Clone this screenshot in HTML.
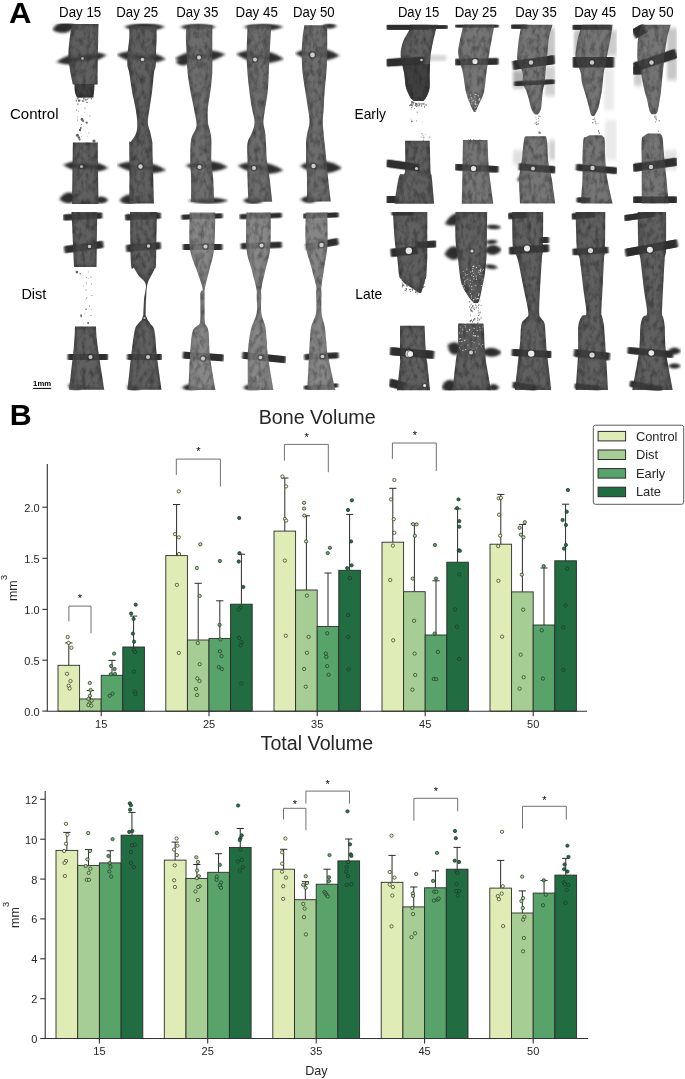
<!DOCTYPE html>
<html lang="en"><head><meta charset="utf-8"><title>Figure</title>
<style>html,body{margin:0;padding:0;background:#fff}svg{display:block}text{font-family:"Liberation Sans",Arial,sans-serif}</style></head><body>
<svg width="685" height="1079" viewBox="0 0 685 1079">
<rect x="0" y="0" width="685" height="1079" fill="#fff"/>
<defs>
<filter id="bone" x="-20%" y="-5%" width="140%" height="110%" color-interpolation-filters="sRGB">
<feTurbulence type="fractalNoise" baseFrequency="0.22 0.13" numOctaves="3" seed="4" result="n"/>
<feColorMatrix in="n" type="matrix" values="0 0 0 0 0  0 0 0 0 0  0 0 0 0 0  0.75 0 0 0 -0.31" result="na"/>
<feComposite in="na" in2="SourceGraphic" operator="in" result="dark"/>
<feMorphology in="SourceAlpha" operator="erode" radius="2.2" result="er"/>
<feGaussianBlur in="er" stdDeviation="2.2" result="erb"/>
<feFlood flood-color="#fff" flood-opacity="0.13" result="fl"/>
<feComposite in="fl" in2="erb" operator="in" result="light"/>
<feMerge result="m"><feMergeNode in="SourceGraphic"/><feMergeNode in="light"/><feMergeNode in="dark"/></feMerge>
<feGaussianBlur in="m" stdDeviation="0.5"/>
</filter>
<filter id="pine" x="-30%" y="-150%" width="160%" height="400%"><feGaussianBlur stdDeviation="1.6 0.8"/></filter>
<filter id="pinr" x="-20%" y="-100%" width="140%" height="300%"><feGaussianBlur stdDeviation="0.9 0.7"/></filter>
<filter id="spot" x="-100%" y="-100%" width="300%" height="300%"><feGaussianBlur stdDeviation="0.7"/></filter>
<filter id="hz" x="-30%" y="-30%" width="160%" height="160%"><feGaussianBlur stdDeviation="1.6 2.2"/></filter>
<filter id="deb" x="-10%" y="-10%" width="120%" height="120%"><feGaussianBlur stdDeviation="0.35"/></filter>
</defs>
<g id="bones">
<clipPath id="cC15"><rect x="52" y="23.5" width="58" height="180.5"/></clipPath>
<g clip-path="url(#cC15)">
<path d="M52.3 27.5 Q57.6 22.1 64.2 22.1 Q70.7 22.1 76 27.5 Q70.7 32.9 64.2 32.9 Q57.6 32.9 52.3 27.5Z" fill="#2f2f2f" filter="url(#pine)" transform="rotate(-10 64.2 27.5)"/>
<path d="M56 58.5 Q67.5 52.6 81.5 52.6 Q95.5 52.6 107 58.5 Q95.5 64.3 81.5 64.3 Q67.5 64.3 56 58.5Z" fill="#2f2f2f" filter="url(#pine)" transform="rotate(-8 81.5 58.5)"/>
<path d="M63 166.5 Q73.2 160.7 85.8 160.7 Q98.3 160.7 108.5 166.5 Q98.3 172.3 85.8 172.3 Q73.2 172.3 63 166.5Z" fill="#2f2f2f" filter="url(#pine)" transform="rotate(4 85.8 166.5)"/>
<path d="M59.5 198 Q63.7 192.6 68.8 192.6 Q73.8 192.6 78 198 Q73.8 203.4 68.8 203.4 Q63.7 203.4 59.5 198Z" fill="#2f2f2f" filter="url(#pine)" transform="rotate(-8 68.8 198)"/>
<path d="M94 200 Q97.2 196.4 101 196.4 Q104.8 196.4 108 200 Q104.8 203.6 101 203.6 Q97.2 203.6 94 200Z" fill="#2f2f2f" filter="url(#pine)" transform="rotate(0 101 200)"/>
<g filter="url(#bone)" fill="#494949">
<path d="M72 24C71.6 26.7 70.1 34.8 69.5 40C68.9 45.2 68.4 50 68.5 55C68.6 60 69.3 65.1 70 70C70.7 74.9 72.4 82.1 72.9 84.5L97.6 84.5C97.6 82.1 97.6 74.9 97.6 70C97.6 65.1 97.7 60 97.8 55C97.9 50 98.1 45.2 98.2 40C98.3 34.8 98.5 26.7 98.5 24Z"/>
<path d="M74.5 84C74.6 85.3 74.6 89.8 75 92C75.4 94.2 76.7 96.6 77 97.5L93 97.5C93.2 96.6 93.8 94.2 94 92C94.2 89.8 94.4 85.3 94.5 84Z"/>
<path d="M72.9 142.5C72.8 147.1 72.7 159.7 72.5 170C72.3 180.3 72.1 198.8 72 204.5L98.6 204.5C98.5 198.8 98.1 180.3 98 170C97.9 159.7 97.8 147.1 97.8 142.5Z"/>
</g>
<path d="M74.5 84C74.6 85.3 74.6 89.8 75 92C75.4 94.2 76.7 96.6 77 97.5L93 97.5C93.2 96.6 93.8 94.2 94 92C94.2 89.8 94.4 85.3 94.5 84Z" fill="#1a1a1a" opacity="0.45" filter="url(#deb)"/>
<path d="M80.8 96.9h1.1v0.9h-1.1zM84.6 98.2h0.7v1.4h-0.7zM75.7 98.6h0.7v0.9h-0.7zM82.6 101h0.7v1.1h-0.7zM86.3 101.7h1v1.3h-1zM92.6 96.3h1.2v1.1h-1.2zM77.6 96.7h0.8v1.8h-0.8zM78.3 99.5h1v1.2h-1zM84.9 96.4h0.7v1h-0.7zM87.2 98.6h0.8v1.5h-0.8zM83.2 97.8h1.1v1.7h-1.1zM79.4 99.4h1v1.9h-1zM88.1 97.7h1.3v0.9h-1.3zM82.5 100.5h0.7v1.4h-0.7zM75.7 100h1.1v1.5h-1.1zM90.8 97.9h1.1v1.5h-1.1zM85.4 98.7h1.2v2h-1.2zM83.5 100h0.7v1.7h-0.7zM86.6 102h1.2v1.1h-1.2zM81.9 100h0.7v1.4h-0.7zM78 96.7h0.7v1.8h-0.7zM77.3 97.5h0.9v1.9h-0.9z" fill="#4a4a4a" opacity="0.8" filter="url(#deb)"/>
<path d="M77.1 119.5h0.6v1.2h-0.6zM87.5 135.7h0.5v0.8h-0.5zM81 136.5h0.8v0.6h-0.8zM78.5 111h0.5v0.9h-0.5zM84.2 112.2h0.4v0.8h-0.4zM81.2 124.1h0.8v1h-0.8zM83.2 126.1h0.7v0.5h-0.7zM88.6 132.4h0.7v1.1h-0.7zM81.5 117.6h0.4v1h-0.4zM76.9 104.6h0.5v0.6h-0.5zM80.8 104.1h0.4v0.6h-0.4zM77.4 116.2h0.4v1.2h-0.4z" fill="#4a4a4a" opacity="0.8" filter="url(#deb)"/>
<circle cx="82" cy="119.4" r="1.4" fill="#444" opacity="0.85" filter="url(#deb)"/>
<circle cx="83.2" cy="121" r="1" fill="#444" opacity="0.85" filter="url(#deb)"/>
<circle cx="86.6" cy="122.7" r="1.1" fill="#444" opacity="0.85" filter="url(#deb)"/>
<circle cx="80" cy="130" r="1.2" fill="#444" opacity="0.85" filter="url(#deb)"/>
<circle cx="80.8" cy="128" r="0.9" fill="#444" opacity="0.85" filter="url(#deb)"/>
<circle cx="77.4" cy="135.2" r="1.5" fill="#444" opacity="0.85" filter="url(#deb)"/>
<circle cx="78.8" cy="137.5" r="1.3" fill="#444" opacity="0.85" filter="url(#deb)"/>
<circle cx="79.6" cy="139.5" r="1" fill="#444" opacity="0.85" filter="url(#deb)"/>
<circle cx="79" cy="101" r="0.9" fill="#444" opacity="0.85" filter="url(#deb)"/>
<circle cx="78" cy="104" r="0.7" fill="#444" opacity="0.85" filter="url(#deb)"/>
<circle cx="85" cy="108" r="0.6" fill="#444" opacity="0.85" filter="url(#deb)"/>
<circle cx="76.5" cy="110" r="0.6" fill="#444" opacity="0.85" filter="url(#deb)"/>
<circle cx="90" cy="116" r="0.5" fill="#444" opacity="0.85" filter="url(#deb)"/>
<circle cx="94" cy="141" r="1.6" fill="#444" opacity="0.85" filter="url(#deb)"/>
<ellipse cx="64.2" cy="27.5" rx="9.5" ry="2.1" fill="#2f2f2f" opacity="0.7" filter="url(#pine)" transform="rotate(-10 64.2 27.5)"/>
<ellipse cx="81.5" cy="58.5" rx="20.4" ry="2.3" fill="#2f2f2f" opacity="0.7" filter="url(#pine)" transform="rotate(-8 81.5 58.5)"/>
<ellipse cx="85.8" cy="166.5" rx="18.2" ry="2.3" fill="#2f2f2f" opacity="0.7" filter="url(#pine)" transform="rotate(4 85.8 166.5)"/>
<ellipse cx="68.8" cy="198" rx="7.4" ry="2.1" fill="#2f2f2f" opacity="0.7" filter="url(#pine)" transform="rotate(-8 68.8 198)"/>
<ellipse cx="101" cy="200" rx="5.6" ry="1.4" fill="#2f2f2f" opacity="0.7" filter="url(#pine)" transform="rotate(0 101 200)"/>
<circle cx="82.5" cy="58.5" r="2.8" fill="#2a2a2a" opacity="0.4" filter="url(#spot)"/>
<circle cx="82.5" cy="58.5" r="1.4" fill="#bdbdbd" opacity="0.9" filter="url(#spot)"/>
<circle cx="81.5" cy="166.5" r="3" fill="#2a2a2a" opacity="0.4" filter="url(#spot)"/>
<circle cx="81.5" cy="166.5" r="1.6" fill="#bdbdbd" opacity="0.9" filter="url(#spot)"/>
</g>
<clipPath id="cC25"><rect x="117" y="23.5" width="49.5" height="180.5"/></clipPath>
<g clip-path="url(#cC25)">
<path d="M124 27 Q133.2 22.9 144.5 22.9 Q155.8 22.9 165 27 Q155.8 31.1 144.5 31.1 Q133.2 31.1 124 27Z" fill="#2f2f2f" filter="url(#pine)" transform="rotate(0 144.5 27)"/>
<path d="M116.5 57 Q127.6 51.1 141.2 51.1 Q154.9 51.1 166 57 Q154.9 62.9 141.2 62.9 Q127.6 62.9 116.5 57Z" fill="#2f2f2f" filter="url(#pine)" transform="rotate(5 141.2 57)"/>
<path d="M116.5 167.5 Q127.7 161.7 141.4 161.7 Q155.1 161.7 166.3 167.5 Q155.1 173.3 141.4 173.3 Q127.7 173.3 116.5 167.5Z" fill="#2f2f2f" filter="url(#pine)" transform="rotate(6 141.4 167.5)"/>
<path d="M119.5 199.5 Q124.1 194.6 129.8 194.6 Q135.4 194.6 140 199.5 Q135.4 204.4 129.8 204.4 Q124.1 204.4 119.5 199.5Z" fill="#2f2f2f" filter="url(#pine)" transform="rotate(-6 129.8 199.5)"/>
<g filter="url(#bone)" fill="#494949">
<path d="M129.3 26C129.3 27.9 129.6 32.7 129.3 37.6C129 42.5 127.8 50.5 127.5 55.2C127.2 59.9 127.2 62.8 127.5 65.8C127.8 68.8 128.6 68.8 129.3 72.9C130 77 130.9 84.6 131.9 90.5C132.9 96.4 134.6 102.8 135.5 108.1C136.4 113.4 137.1 118.1 137.2 122.2C137.3 126.3 137.3 129.6 136.3 132.8C135.3 136 132.2 139.8 131 141.6C129.8 143.3 129.6 138.6 129.3 143.3C129.1 148 129.5 160 129.5 170C129.5 180 129.3 197.9 129.3 203.5L154 203.5C153.8 197.9 153.3 180 153 170C152.7 160 152.5 148 152.4 143.3C152.3 138.6 152.5 143.3 152.2 141.6C151.9 139.8 151.1 136 150.4 132.8C149.7 129.6 147.9 126.3 147.8 122.2C147.7 118.1 148.9 113.4 149.6 108.1C150.3 102.8 151.5 96.4 152.2 90.5C152.9 84.6 153.4 77 154 72.9C154.6 68.8 155.4 68.8 155.7 65.8C156 62.8 155.8 59.9 155.9 55.2C156.1 50.5 156.5 42.5 156.6 37.6C156.7 32.7 156.6 27.9 156.6 26Z"/>
</g>
<ellipse cx="144.5" cy="27" rx="16.4" ry="1.6" fill="#2f2f2f" opacity="0.35" filter="url(#pine)" transform="rotate(0 144.5 27)"/>
<ellipse cx="141.2" cy="57" rx="19.8" ry="2.3" fill="#2f2f2f" opacity="0.35" filter="url(#pine)" transform="rotate(5 141.2 57)"/>
<ellipse cx="141.4" cy="167.5" rx="19.9" ry="2.3" fill="#2f2f2f" opacity="0.35" filter="url(#pine)" transform="rotate(6 141.4 167.5)"/>
<ellipse cx="129.8" cy="199.5" rx="8.2" ry="1.9" fill="#2f2f2f" opacity="0.35" filter="url(#pine)" transform="rotate(-6 129.8 199.5)"/>
<circle cx="142.5" cy="59.5" r="3.2" fill="#2a2a2a" opacity="0.4" filter="url(#spot)"/>
<circle cx="142.5" cy="59.5" r="1.8" fill="#dcdcdc" opacity="0.9" filter="url(#spot)"/>
<circle cx="140.5" cy="166.5" r="3.6" fill="#2a2a2a" opacity="0.4" filter="url(#spot)"/>
<circle cx="140.5" cy="166.5" r="2.2" fill="#dcdcdc" opacity="0.9" filter="url(#spot)"/>
</g>
<clipPath id="cC35"><rect x="175" y="23.5" width="53.5" height="180.5"/></clipPath>
<g clip-path="url(#cC35)">
<path d="M180 27 Q188.1 23.4 198 23.4 Q207.9 23.4 216 27 Q207.9 30.6 198 30.6 Q188.1 30.6 180 27Z" fill="#2f2f2f" filter="url(#pine)" transform="rotate(0 198 27)"/>
<path d="M174.5 56.5 Q186 50.2 200 50.2 Q214 50.2 225.5 56.5 Q214 62.8 200 62.8 Q186 62.8 174.5 56.5Z" fill="#2f2f2f" filter="url(#pine)" transform="rotate(-5 200 56.5)"/>
<path d="M176 62 Q179.2 58.4 183 58.4 Q186.8 58.4 190 62 Q186.8 65.6 183 65.6 Q179.2 65.6 176 62Z" fill="#2f2f2f" filter="url(#pine)" transform="rotate(0 183 62)"/>
<path d="M185.5 166.3 Q195.1 160.9 206.8 160.9 Q218.4 160.9 228 166.3 Q218.4 171.7 206.8 171.7 Q195.1 171.7 185.5 166.3Z" fill="#2f2f2f" filter="url(#pine)" transform="rotate(2 206.8 166.3)"/>
<path d="M188 200.6 Q197.1 197.4 208.2 197.4 Q219.4 197.4 228.5 200.6 Q219.4 203.8 208.2 203.8 Q197.1 203.8 188 200.6Z" fill="#2f2f2f" filter="url(#pine)" transform="rotate(0 208.2 200.6)"/>
<g filter="url(#bone)" fill="#585858">
<path d="M186.7 25.3C186.6 27.4 185.9 32.6 185.9 37.6C185.9 42.6 186.4 49.3 186.7 55.2C187 61.1 187 67 187.6 72.9C188.2 78.8 189.3 84.6 190.3 90.5C191.3 96.4 192.8 102.8 193.8 108.1C194.8 113.4 196.1 118.7 196.4 122.2C196.7 125.7 196.5 126.4 195.6 129.3C194.7 132.2 192 134.5 191.1 139.8C190.2 145.1 190.3 154.5 190.3 161C190.3 167.5 191 171.8 191.1 178.6C191.2 185.4 191.1 197.9 191.1 201.8L214.1 201.8C213.9 197.9 213.6 185.4 213.2 178.6C212.8 171.8 211.7 167.5 211.4 161C211.1 154.5 211.7 145.1 211.4 139.8C211.1 134.5 210.2 132.2 209.6 129.3C209 126.4 208.2 125.7 207.9 122.2C207.6 118.7 207.5 113.4 207.9 108.1C208.3 102.8 209.8 96.4 210.5 90.5C211.2 84.6 212 78.8 212.3 72.9C212.6 67 212.3 61.1 212.3 55.2C212.3 49.3 212.3 42.6 212.3 37.6C212.3 32.6 212.3 27.4 212.3 25.3Z"/>
</g>
<ellipse cx="198" cy="27" rx="14.4" ry="1.4" fill="#2f2f2f" opacity="0.35" filter="url(#pine)" transform="rotate(0 198 27)"/>
<ellipse cx="200" cy="56.5" rx="20.4" ry="2.4" fill="#2f2f2f" opacity="0.35" filter="url(#pine)" transform="rotate(-5 200 56.5)"/>
<ellipse cx="183" cy="62" rx="5.6" ry="1.4" fill="#2f2f2f" opacity="0.35" filter="url(#pine)" transform="rotate(0 183 62)"/>
<ellipse cx="206.8" cy="166.3" rx="17" ry="2.1" fill="#2f2f2f" opacity="0.35" filter="url(#pine)" transform="rotate(2 206.8 166.3)"/>
<ellipse cx="208.2" cy="200.6" rx="16.2" ry="1.2" fill="#2f2f2f" opacity="0.35" filter="url(#pine)" transform="rotate(0 208.2 200.6)"/>
<circle cx="199" cy="57.5" r="3.4" fill="#2a2a2a" opacity="0.4" filter="url(#spot)"/>
<circle cx="199" cy="57.5" r="2" fill="#dcdcdc" opacity="0.9" filter="url(#spot)"/>
<circle cx="199.5" cy="167" r="3.4" fill="#2a2a2a" opacity="0.4" filter="url(#spot)"/>
<circle cx="199.5" cy="167" r="2" fill="#dcdcdc" opacity="0.9" filter="url(#spot)"/>
</g>
<clipPath id="cC45"><rect x="236" y="23.5" width="48" height="180.5"/></clipPath>
<g clip-path="url(#cC45)">
<path d="M243 27 Q252.1 23.4 263.2 23.4 Q274.4 23.4 283.5 27 Q274.4 30.6 263.2 30.6 Q252.1 30.6 243 27Z" fill="#2f2f2f" filter="url(#pine)" transform="rotate(0 263.2 27)"/>
<path d="M236 56.5 Q246.8 50.2 260 50.2 Q273.2 50.2 284 56.5 Q273.2 62.8 260 62.8 Q246.8 62.8 236 56.5Z" fill="#2f2f2f" filter="url(#pine)" transform="rotate(6 260 56.5)"/>
<path d="M237.5 168 Q247.8 162.2 260.5 162.2 Q273.1 162.2 283.5 168 Q273.1 173.8 260.5 173.8 Q247.8 173.8 237.5 168Z" fill="#2f2f2f" filter="url(#pine)" transform="rotate(6 260.5 168)"/>
<path d="M243 200.5 Q247.7 196.9 253.5 196.9 Q259.3 196.9 264 200.5 Q259.3 204.1 253.5 204.1 Q247.7 204.1 243 200.5Z" fill="#2f2f2f" filter="url(#pine)" transform="rotate(0 253.5 200.5)"/>
<g filter="url(#bone)" fill="#585858">
<path d="M247.5 25.3C247.4 30.3 246.7 47.3 246.7 55.2C246.7 63.1 247.1 67 247.5 72.9C247.9 78.8 248.6 84.6 249.3 90.5C250 96.4 251 102.8 251.9 108.1C252.8 113.4 254.6 118.1 254.6 122.2C254.6 126.3 253.1 129.3 251.9 132.8C250.7 136.3 248.2 138.6 247.5 143.3C246.8 148 247.5 155.1 247.5 161C247.5 166.9 247.3 171.8 247.5 178.6C247.7 185.4 248.2 197.9 248.4 201.8L272.2 201.8C271.8 197.9 270.5 185.4 269.6 178.6C268.7 171.8 267.5 166.9 266.9 161C266.3 155.1 266.3 148 266 143.3C265.7 138.6 265.6 136.3 265.2 132.8C264.8 129.3 263.4 126.3 263.4 122.2C263.4 118.1 264.5 113.4 265.2 108.1C265.9 102.8 267.2 96.4 267.8 90.5C268.4 84.6 268.4 78.8 268.7 72.9C269 67 269.2 63.1 269.6 55.2C270 47.3 271 30.3 271.3 25.3Z"/>
</g>
<ellipse cx="263.2" cy="27" rx="16.2" ry="1.4" fill="#2f2f2f" opacity="0.35" filter="url(#pine)" transform="rotate(0 263.2 27)"/>
<ellipse cx="260" cy="56.5" rx="19.2" ry="2.4" fill="#2f2f2f" opacity="0.35" filter="url(#pine)" transform="rotate(6 260 56.5)"/>
<ellipse cx="260.5" cy="168" rx="18.4" ry="2.3" fill="#2f2f2f" opacity="0.35" filter="url(#pine)" transform="rotate(6 260.5 168)"/>
<ellipse cx="253.5" cy="200.5" rx="8.4" ry="1.4" fill="#2f2f2f" opacity="0.35" filter="url(#pine)" transform="rotate(0 253.5 200.5)"/>
<circle cx="255" cy="59.5" r="3.4" fill="#2a2a2a" opacity="0.4" filter="url(#spot)"/>
<circle cx="255" cy="59.5" r="2" fill="#dcdcdc" opacity="0.9" filter="url(#spot)"/>
<circle cx="254" cy="168" r="3.4" fill="#2a2a2a" opacity="0.4" filter="url(#spot)"/>
<circle cx="254" cy="168" r="2" fill="#dcdcdc" opacity="0.9" filter="url(#spot)"/>
</g>
<clipPath id="cC50"><rect x="295" y="23.5" width="47" height="180.5"/></clipPath>
<g clip-path="url(#cC50)">
<path d="M322 26 Q325.4 23.3 329.5 23.3 Q333.6 23.3 337 26 Q333.6 28.7 329.5 28.7 Q325.4 28.7 322 26Z" fill="#2f2f2f" filter="url(#pine)" transform="rotate(0 329.5 26)"/>
<path d="M295 54.5 Q305 48.2 317.2 48.2 Q329.5 48.2 339.5 54.5 Q329.5 60.8 317.2 60.8 Q305 60.8 295 54.5Z" fill="#2f2f2f" filter="url(#pine)" transform="rotate(3 317.2 54.5)"/>
<path d="M300 167 Q309.4 160.7 321 160.7 Q332.6 160.7 342 167 Q332.6 173.3 321 173.3 Q309.4 173.3 300 167Z" fill="#2f2f2f" filter="url(#pine)" transform="rotate(3 321 167)"/>
<path d="M300.5 199.5 Q304.4 195.9 309.2 195.9 Q314.1 195.9 318 199.5 Q314.1 203.1 309.2 203.1 Q304.4 203.1 300.5 199.5Z" fill="#2f2f2f" filter="url(#pine)" transform="rotate(0 309.2 199.5)"/>
<g filter="url(#bone)" fill="#585858">
<path d="M304.4 25.3C304.1 27.4 303.1 32.9 302.6 37.6C302.2 42.3 301.7 47.5 301.7 53.4C301.7 59.3 302 66.6 302.6 72.8C303.2 79 304.3 84.5 305.2 90.4C306.1 96.3 307.2 102.7 307.9 108C308.6 113.3 309.8 117.6 309.6 122C309.5 126.4 307.6 130.9 307 134.4C306.4 137.9 306.2 138.8 306.1 143.2C306 147.6 306 154.9 306.1 160.8C306.2 166.7 306.9 171.6 307 178.4C307.1 185.2 307 197.7 307 201.5L330.8 201.5C330.4 197.7 328.8 185.2 328.1 178.4C327.4 171.6 327 166.7 326.4 160.8C325.8 154.9 325.1 147.6 324.6 143.2C324.2 138.8 324 137.9 323.7 134.4C323.4 130.9 322.8 126.4 322.8 122C322.8 117.6 323.4 113.3 323.7 108C324 102.7 324.2 96.3 324.6 90.4C325.1 84.5 326 79 326.4 72.8C326.8 66.6 327.1 59.3 327.2 53.4C327.3 47.5 327.2 42.3 327.2 37.6C327.2 32.9 327.2 27.4 327.2 25.3Z"/>
</g>
<ellipse cx="329.5" cy="26" rx="6" ry="1" fill="#2f2f2f" opacity="0.35" filter="url(#pine)" transform="rotate(0 329.5 26)"/>
<ellipse cx="317.2" cy="54.5" rx="17.8" ry="2.4" fill="#2f2f2f" opacity="0.35" filter="url(#pine)" transform="rotate(3 317.2 54.5)"/>
<ellipse cx="321" cy="167" rx="16.8" ry="2.4" fill="#2f2f2f" opacity="0.35" filter="url(#pine)" transform="rotate(3 321 167)"/>
<ellipse cx="309.2" cy="199.5" rx="7" ry="1.4" fill="#2f2f2f" opacity="0.35" filter="url(#pine)" transform="rotate(0 309.2 199.5)"/>
<circle cx="312.5" cy="55" r="3.8" fill="#2a2a2a" opacity="0.4" filter="url(#spot)"/>
<circle cx="312.5" cy="55" r="2.4" fill="#dcdcdc" opacity="0.9" filter="url(#spot)"/>
<circle cx="313.5" cy="166" r="3.6" fill="#2a2a2a" opacity="0.4" filter="url(#spot)"/>
<circle cx="313.5" cy="166" r="2.2" fill="#dcdcdc" opacity="0.9" filter="url(#spot)"/>
</g>
<clipPath id="cD15"><rect x="63" y="212" width="45.5" height="178.5"/></clipPath>
<g clip-path="url(#cD15)">
<rect x="63.4" y="213.5" width="38.6" height="6" rx="1" fill="#2f2f2f" filter="url(#pinr)" transform="rotate(-3 82.7 216.5)"/>
<rect x="64.5" y="243.5" width="38.7" height="7" rx="1" fill="#2f2f2f" filter="url(#pinr)" transform="rotate(-8 83.8 247)"/>
<rect x="68" y="354" width="39.8" height="6" rx="1" fill="#2f2f2f" filter="url(#pinr)" transform="rotate(0 87.9 357)"/>
<path d="M68 386 Q71.6 381.5 76 381.5 Q80.4 381.5 84 386 Q80.4 390.5 76 390.5 Q71.6 390.5 68 386Z" fill="#2f2f2f" filter="url(#pine)" transform="rotate(0 76 386)"/>
<g filter="url(#bone)" fill="#494949">
<path d="M71.5 212 L74 267 L96.5 267 L97.2 212Z"/>
<path d="M75 326.5C74.8 329.6 75 334.4 74 345C73 355.6 70 382.3 69.2 389.8L104.3 389.8C103.2 382.3 98.9 355.6 97.5 345C96.1 334.4 96.2 329.6 96 326.5Z"/>
</g>
<path d="M88.5 278.3h0.5v0.7h-0.5zM86.3 276.9h0.7v1.1h-0.7zM87.2 297.1h0.4v0.5h-0.4zM86.1 284.8h0.7v0.5h-0.7zM83.2 323.3h0.6v0.5h-0.6zM87.9 271.5h0.6v1.1h-0.6zM90.8 309h0.5v0.7h-0.5zM84.5 313.2h0.6v1h-0.6zM86 282.5h0.7v1.1h-0.7zM90.7 315.1h0.7v1h-0.7zM85 299h0.5v0.5h-0.5zM83.3 285.6h0.5v0.9h-0.5zM91.6 295h0.7v1.1h-0.7zM91.6 290.4h0.4v0.6h-0.4z" fill="#4a4a4a" opacity="0.8" filter="url(#deb)"/>
<circle cx="76.9" cy="272.1" r="1.3" fill="#444" opacity="0.85" filter="url(#deb)"/>
<circle cx="80.2" cy="273.8" r="0.7" fill="#444" opacity="0.85" filter="url(#deb)"/>
<circle cx="81.1" cy="315.2" r="0.9" fill="#444" opacity="0.85" filter="url(#deb)"/>
<circle cx="81.1" cy="316.6" r="0.8" fill="#444" opacity="0.85" filter="url(#deb)"/>
<circle cx="88.1" cy="323" r="1" fill="#444" opacity="0.85" filter="url(#deb)"/>
<circle cx="86.1" cy="309.3" r="0.7" fill="#444" opacity="0.85" filter="url(#deb)"/>
<circle cx="89.5" cy="306" r="0.6" fill="#444" opacity="0.85" filter="url(#deb)"/>
<circle cx="91" cy="277" r="0.5" fill="#444" opacity="0.85" filter="url(#deb)"/>
<circle cx="91.5" cy="284" r="0.5" fill="#444" opacity="0.85" filter="url(#deb)"/>
<circle cx="86" cy="290" r="0.5" fill="#444" opacity="0.85" filter="url(#deb)"/>
<circle cx="86.5" cy="298" r="0.5" fill="#444" opacity="0.85" filter="url(#deb)"/>
<rect x="63.4" y="213.5" width="38.6" height="6" rx="1" fill="#2f2f2f" opacity="0.5" filter="url(#pinr)" transform="rotate(-3 82.7 216.5)"/>
<rect x="64.5" y="243.5" width="38.7" height="7" rx="1" fill="#2f2f2f" opacity="0.5" filter="url(#pinr)" transform="rotate(-8 83.8 247)"/>
<rect x="68" y="354" width="39.8" height="6" rx="1" fill="#2f2f2f" opacity="0.5" filter="url(#pinr)" transform="rotate(0 87.9 357)"/>
<ellipse cx="76" cy="386" rx="6.4" ry="1.8" fill="#2f2f2f" opacity="0.35" filter="url(#pine)" transform="rotate(0 76 386)"/>
<circle cx="89.5" cy="246.5" r="3.1" fill="#2a2a2a" opacity="0.4" filter="url(#spot)"/>
<circle cx="89.5" cy="246.5" r="1.7" fill="#dcdcdc" opacity="0.9" filter="url(#spot)"/>
<circle cx="90.5" cy="357" r="3.4" fill="#2a2a2a" opacity="0.4" filter="url(#spot)"/>
<circle cx="90.5" cy="357" r="2" fill="#dcdcdc" opacity="0.9" filter="url(#spot)"/>
</g>
<clipPath id="cD25"><rect x="124.5" y="212" width="37.5" height="178.5"/></clipPath>
<g clip-path="url(#cD25)">
<rect x="125.3" y="213.5" width="35.2" height="6" rx="1" fill="#2f2f2f" filter="url(#pinr)" transform="rotate(-3 142.9 216.5)"/>
<rect x="126.5" y="243.5" width="34" height="7" rx="1" fill="#2f2f2f" filter="url(#pinr)" transform="rotate(-5 143.5 247)"/>
<rect x="127.6" y="354" width="34.1" height="6" rx="1" fill="#2f2f2f" filter="url(#pinr)" transform="rotate(0 144.6 357)"/>
<path d="M127 387 Q130.4 382.5 134.5 382.5 Q138.6 382.5 142 387 Q138.6 391.5 134.5 391.5 Q130.4 391.5 127 387Z" fill="#2f2f2f" filter="url(#pine)" transform="rotate(0 134.5 387)"/>
<g filter="url(#bone)" fill="#494949">
<path d="M130 212C130.2 220.7 130.3 254.7 131 264C131.7 273.3 132.7 266 134 268C135.3 270 137 273.3 139 276C141 278.7 145 280.4 145.8 284.4C146.6 288.4 144.4 294.4 144 300C143.6 305.6 143.3 315 143.2 318L145.6 318C145.7 315 145.7 305.6 146 300C146.3 294.4 146.5 288.4 147.3 284.4C148.1 280.4 149.7 278.7 151 276C152.3 273.3 154.2 270 155 268C155.8 266 155.7 273.3 156 264C156.3 254.7 156.7 220.7 156.8 212Z"/>
<path d="M143.4 316C143.1 316.7 142.4 318.7 141.5 320C140.6 321.3 139.2 322.2 138 324C136.8 325.8 135.8 325.5 134.6 331C133.4 336.5 132.2 347.2 131 357C129.8 366.8 128.2 384.3 127.6 389.8L161.5 389.8C160.8 384.3 158.2 366.8 157 357C155.8 347.2 155.6 336.5 154.5 331C153.4 325.5 151.6 325.8 150.5 324C149.4 322.2 148.6 321.3 147.8 320C147 318.7 146 316.7 145.6 316Z"/>
</g>
<rect x="125.3" y="213.5" width="35.2" height="6" rx="1" fill="#2f2f2f" opacity="0.5" filter="url(#pinr)" transform="rotate(-3 142.9 216.5)"/>
<rect x="126.5" y="243.5" width="34" height="7" rx="1" fill="#2f2f2f" opacity="0.5" filter="url(#pinr)" transform="rotate(-5 143.5 247)"/>
<rect x="127.6" y="354" width="34.1" height="6" rx="1" fill="#2f2f2f" opacity="0.5" filter="url(#pinr)" transform="rotate(0 144.6 357)"/>
<ellipse cx="134.5" cy="387" rx="6" ry="1.8" fill="#2f2f2f" opacity="0.35" filter="url(#pine)" transform="rotate(0 134.5 387)"/>
<circle cx="148.5" cy="246" r="3.1" fill="#2a2a2a" opacity="0.4" filter="url(#spot)"/>
<circle cx="148.5" cy="246" r="1.7" fill="#dcdcdc" opacity="0.9" filter="url(#spot)"/>
<circle cx="148" cy="357" r="3.4" fill="#2a2a2a" opacity="0.4" filter="url(#spot)"/>
<circle cx="148" cy="357" r="2" fill="#dcdcdc" opacity="0.9" filter="url(#spot)"/>
<circle cx="144.5" cy="318" r="2.5" fill="#2a2a2a" opacity="0.4" filter="url(#spot)"/>
<circle cx="144.5" cy="318" r="1.1" fill="#dcdcdc" opacity="0.9" filter="url(#spot)"/>
</g>
<clipPath id="cD35"><rect x="180" y="212" width="44" height="178.5"/></clipPath>
<g clip-path="url(#cD35)">
<rect x="181.6" y="214" width="40.9" height="5" rx="1" fill="#2f2f2f" filter="url(#pinr)" transform="rotate(-2 202.1 216.5)"/>
<rect x="183" y="243.9" width="39.3" height="6" rx="1" fill="#2f2f2f" filter="url(#pinr)" transform="rotate(0 202.7 246.9)"/>
<rect x="183" y="353" width="40.7" height="7" rx="1" fill="#2f2f2f" filter="url(#pinr)" transform="rotate(4 203.3 356.5)"/>
<path d="M182 387.5 Q186.1 383.9 191 383.9 Q195.9 383.9 200 387.5 Q195.9 391.1 191 391.1 Q186.1 391.1 182 387.5Z" fill="#2f2f2f" filter="url(#pine)" transform="rotate(0 191 387.5)"/>
<g filter="url(#bone)" fill="#767676">
<path d="M189.7 212.6C189.7 218.5 188.7 238.6 189.9 248.2C191.1 257.8 194.6 263.2 196.7 270C198.8 276.8 202 284.7 202.6 288.7C203.2 292.7 200.8 288.6 200.4 294C200 299.4 200.8 315.7 200.2 321C199.6 326.3 198.3 324.2 197 326C195.7 327.8 193.6 327 192.4 332C191.2 337 190.7 346.3 190 356C189.3 365.7 188.7 384.3 188.4 390L215.4 390C214.5 384.3 211.1 365.7 210 356C208.9 346.3 209.2 337 208.6 332C208 327 207.1 327.8 206.5 326C205.9 324.2 205.1 326.3 204.8 321C204.5 315.7 204.6 299.4 204.6 294C204.6 288.6 204 292.7 204.8 288.7C205.6 284.7 207.7 276.8 209.3 270C210.9 263.2 213.2 257.8 214.2 248.2C215.2 238.6 215.2 218.5 215.4 212.6Z"/>
</g>
<rect x="181.6" y="214" width="40.9" height="5" rx="1" fill="#2f2f2f" opacity="0.22" filter="url(#pinr)" transform="rotate(-2 202.1 216.5)"/>
<rect x="183" y="243.9" width="39.3" height="6" rx="1" fill="#2f2f2f" opacity="0.22" filter="url(#pinr)" transform="rotate(0 202.7 246.9)"/>
<rect x="183" y="353" width="40.7" height="7" rx="1" fill="#2f2f2f" opacity="0.22" filter="url(#pinr)" transform="rotate(4 203.3 356.5)"/>
<ellipse cx="191" cy="387.5" rx="7.2" ry="1.4" fill="#2f2f2f" opacity="0.35" filter="url(#pine)" transform="rotate(0 191 387.5)"/>
<circle cx="205.5" cy="246.5" r="3.4" fill="#2a2a2a" opacity="0.4" filter="url(#spot)"/>
<circle cx="205.5" cy="246.5" r="2" fill="#dcdcdc" opacity="0.9" filter="url(#spot)"/>
<circle cx="203" cy="358.5" r="3.4" fill="#2a2a2a" opacity="0.4" filter="url(#spot)"/>
<circle cx="203" cy="358.5" r="2" fill="#dcdcdc" opacity="0.9" filter="url(#spot)"/>
</g>
<clipPath id="cD45"><rect x="239" y="212" width="47" height="178.5"/></clipPath>
<g clip-path="url(#cD45)">
<rect x="239.7" y="213.5" width="42" height="5" rx="1" fill="#2f2f2f" filter="url(#pinr)" transform="rotate(-2 260.7 216)"/>
<rect x="241" y="242.5" width="40.7" height="6" rx="1" fill="#2f2f2f" filter="url(#pinr)" transform="rotate(-2 261.4 245.5)"/>
<rect x="242.4" y="354.1" width="43.4" height="7" rx="1" fill="#2f2f2f" filter="url(#pinr)" transform="rotate(6 264.1 357.6)"/>
<path d="M243 387.5 Q247.3 383.9 252.5 383.9 Q257.7 383.9 262 387.5 Q257.7 391.1 252.5 391.1 Q247.3 391.1 243 387.5Z" fill="#2f2f2f" filter="url(#pine)" transform="rotate(0 252.5 387.5)"/>
<g filter="url(#bone)" fill="#767676">
<path d="M246.4 212.6C246.4 218.5 245.5 238.6 246.4 248.2C247.3 257.8 250.1 263.2 251.8 270C253.5 276.8 255.6 284.2 256.4 288.7C257.2 293.2 256.6 292.9 256.7 297C256.8 301.1 257.5 308.1 256.7 313C255.9 317.9 253.1 322 251.8 326.5C250.5 331 249.8 335.1 249.1 340C248.4 344.9 248 347.9 247.8 356.2C247.6 364.5 247.8 384.4 247.8 390L273.4 390C272.5 384.4 269.1 364.5 268 356.2C266.9 347.9 267.1 344.9 266.7 340C266.2 335.1 266.2 331 265.3 326.5C264.4 322 262 317.9 261.3 313C260.6 308.1 261.3 301.1 261.3 297C261.3 292.9 260.6 293.2 261.3 288.7C262 284.2 263.9 276.8 265.4 270C266.9 263.2 269.3 257.8 270.2 248.2C271.1 238.6 270.6 218.5 270.7 212.6Z"/>
</g>
<rect x="239.7" y="213.5" width="42" height="5" rx="1" fill="#2f2f2f" opacity="0.22" filter="url(#pinr)" transform="rotate(-2 260.7 216)"/>
<rect x="241" y="242.5" width="40.7" height="6" rx="1" fill="#2f2f2f" opacity="0.22" filter="url(#pinr)" transform="rotate(-2 261.4 245.5)"/>
<rect x="242.4" y="354.1" width="43.4" height="7" rx="1" fill="#2f2f2f" opacity="0.22" filter="url(#pinr)" transform="rotate(6 264.1 357.6)"/>
<ellipse cx="252.5" cy="387.5" rx="7.6" ry="1.4" fill="#2f2f2f" opacity="0.35" filter="url(#pine)" transform="rotate(0 252.5 387.5)"/>
<circle cx="261.5" cy="245.5" r="3.4" fill="#2a2a2a" opacity="0.4" filter="url(#spot)"/>
<circle cx="261.5" cy="245.5" r="2" fill="#dcdcdc" opacity="0.9" filter="url(#spot)"/>
<circle cx="260.5" cy="357.5" r="3.2" fill="#2a2a2a" opacity="0.4" filter="url(#spot)"/>
<circle cx="260.5" cy="357.5" r="1.8" fill="#dcdcdc" opacity="0.9" filter="url(#spot)"/>
</g>
<clipPath id="cD50"><rect x="303" y="212" width="37" height="178.5"/></clipPath>
<g clip-path="url(#cD50)">
<rect x="303.1" y="213" width="35.4" height="5" rx="1" fill="#2f2f2f" filter="url(#pinr)" transform="rotate(-2 320.8 215.5)"/>
<rect x="305.8" y="240.7" width="32.6" height="7" rx="1" fill="#2f2f2f" filter="url(#pinr)" transform="rotate(-10 322.1 244.2)"/>
<rect x="304.5" y="353.2" width="33.9" height="6" rx="1" fill="#2f2f2f" filter="url(#pinr)" transform="rotate(-3 321.4 356.2)"/>
<rect x="304" y="384.5" width="34" height="4" rx="1" fill="#2f2f2f" filter="url(#pinr)" transform="rotate(-4 321 386.5)"/>
<g filter="url(#bone)" fill="#767676">
<path d="M305.8 212.6C305.8 218.1 304.9 236.4 305.8 245.5C306.7 254.6 309.6 260.2 311.3 267C313 273.8 315.3 281.5 316.1 286C316.9 290.5 316.1 289.5 316.1 294C316.1 298.5 316.9 307.6 316.1 313C315.3 318.4 312.2 322 311.2 326.5C310.2 331 310.3 335.1 309.9 340C309.5 344.9 309.4 347.7 309 356C308.6 364.3 307.5 384.3 307.2 390L335.5 390C334.2 384.3 329.6 364.3 328 356C326.4 347.7 326.7 344.9 326.1 340C325.6 335.1 325.5 331 324.7 326.5C323.9 322 322 318.4 321.5 313C321 307.6 321.5 298.5 321.5 294C321.5 289.5 321 290.5 321.5 286C322 281.5 323.3 273.8 324.3 267C325.3 260.2 326.9 254.6 327.4 245.5C327.9 236.4 327.4 218.1 327.4 212.6Z"/>
</g>
<rect x="303.1" y="213" width="35.4" height="5" rx="1" fill="#2f2f2f" opacity="0.22" filter="url(#pinr)" transform="rotate(-2 320.8 215.5)"/>
<rect x="305.8" y="240.7" width="32.6" height="7" rx="1" fill="#2f2f2f" opacity="0.22" filter="url(#pinr)" transform="rotate(-10 322.1 244.2)"/>
<rect x="304.5" y="353.2" width="33.9" height="6" rx="1" fill="#2f2f2f" opacity="0.22" filter="url(#pinr)" transform="rotate(-3 321.4 356.2)"/>
<rect x="304" y="384.5" width="34" height="4" rx="1" fill="#2f2f2f" opacity="0.22" filter="url(#pinr)" transform="rotate(-4 321 386.5)"/>
<circle cx="321.5" cy="245" r="3.6" fill="#2a2a2a" opacity="0.4" filter="url(#spot)"/>
<circle cx="321.5" cy="245" r="2.2" fill="#dcdcdc" opacity="0.9" filter="url(#spot)"/>
<circle cx="322.5" cy="356.5" r="3.2" fill="#2a2a2a" opacity="0.4" filter="url(#spot)"/>
<circle cx="322.5" cy="356.5" r="1.8" fill="#dcdcdc" opacity="0.9" filter="url(#spot)"/>
</g>
<clipPath id="cE15"><rect x="386.5" y="24.5" width="61.5" height="179.5"/></clipPath>
<g clip-path="url(#cE15)">
<rect x="424" y="56" width="22" height="4" fill="#000" opacity="0.25" filter="url(#hz)"/>
<rect x="386.5" y="24.8" width="42.5" height="5" rx="1" fill="#2f2f2f" filter="url(#pinr)" transform="rotate(0 407.8 27.3)"/>
<rect x="429" y="25.2" width="18.5" height="3.5" rx="1" fill="#2f2f2f" filter="url(#pinr)" transform="rotate(0 438.2 27)"/>
<rect x="386.5" y="57.8" width="38" height="7.5" rx="1" fill="#2f2f2f" filter="url(#pinr)" transform="rotate(-4 405.5 61.5)"/>
<rect x="386.5" y="161.8" width="32.5" height="7.5" rx="1" fill="#2f2f2f" filter="url(#pinr)" transform="rotate(8 402.8 165.5)"/>
<rect x="386.5" y="196.1" width="9.5" height="7" rx="1" fill="#2f2f2f" filter="url(#pinr)" transform="rotate(0 391.2 199.6)"/>
<g filter="url(#bone)" fill="#494949">
<path d="M410 24.5C409.9 25.4 410.5 26.9 409.4 29.7C408.3 32.5 404.8 36.9 403.3 41.1C401.8 45.4 400.5 49.9 400.6 55.2C400.7 60.5 403.2 67.6 404.1 72.9C405 78.2 405.1 83.5 405.9 87C406.6 90.5 407.8 92.1 408.6 94C409.5 95.9 410.1 97.3 411 98.5C411.9 99.7 413.5 100.6 414 101L423.5 101C423.8 100.6 424.8 99.7 425.5 98.5C426.2 97.3 427.2 95.9 427.9 94C428.6 92.1 429.4 90.5 429.7 87C430 83.5 429.5 78.2 429.7 72.9C429.9 67.6 430 60.5 430.6 55.2C431.2 49.9 432.3 45.4 433.2 41.1C434.1 36.9 435.1 32.5 435.9 29.7C436.7 26.9 437.6 25.4 438 24.5Z"/>
<path d="M405 140.7C405 145.8 405.9 165.8 405 171.5C404.1 177.2 401.1 171.9 399.7 175C398.3 178.1 397.4 185.2 396.5 190C395.6 194.8 394.8 201.5 394.5 203.8L434.1 203.8C433.9 201.5 433.4 194.8 433 190C432.6 185.2 431.9 178.1 431.5 175C431.1 171.9 430.9 177.2 430.6 171.5C430.3 165.8 429.9 145.8 429.7 140.7Z"/>
</g>
<path d="M402.5 64C402.8 65.5 403.5 69.1 404.1 72.9C404.7 76.7 405.1 83.5 405.9 87C406.6 90.5 407.8 92.1 408.6 94C409.5 95.9 410.1 97.3 411 98.5C411.9 99.7 413.5 100.6 414 101L423.5 101C423.8 100.6 424.8 99.7 425.5 98.5C426.2 97.3 427.2 95.9 427.9 94C428.6 92.1 429.4 90.5 429.7 87C430 83.5 429.6 76.7 429.7 72.9C429.8 69.1 430.1 65.5 430.2 64Z" fill="#222" opacity="0.5" filter="url(#deb)"/>
<path d="M412.3 101.2h1v1.9h-1zM423.3 102.9h1.1v1.8h-1.1zM410.4 104h1.2v1.8h-1.2zM421.8 102.9h0.8v1.8h-0.8zM414.7 104.8h1.3v1.3h-1.3zM415.8 105.7h1.1v1h-1.1zM411.2 100.9h1.2v1.8h-1.2zM411.5 105h1.3v1.6h-1.3zM415 103.3h0.7v0.8h-0.7zM425.5 103.9h1v2h-1zM416.4 105.2h1.2v1h-1.2zM413.3 101.8h0.8v1.5h-0.8zM413.4 102.5h0.7v1.9h-0.7zM415 102.7h1v1.9h-1zM416.2 105.5h1v1.4h-1zM417.9 100.1h0.9v1h-0.9zM409.1 104.8h0.8v1.4h-0.8zM421.3 103.3h0.8v1.4h-0.8zM418.4 104.7h0.7v1.5h-0.7zM413.2 101.7h1.1v1.4h-1.1zM418.5 104.6h1.2v1.3h-1.2zM419.4 103h1v1.7h-1zM416.7 103.2h0.9v2h-0.9zM420.9 105.3h1.2v1.1h-1.2zM418.5 105.7h1.2v0.9h-1.2zM411.1 102.7h0.7v1.1h-0.7zM410.2 104h1.1v1.9h-1.1zM411.6 104.3h1.1v1h-1.1zM424 105.8h0.8v2h-0.8zM415.8 102.9h1.3v1.8h-1.3zM411.7 102.6h1v1.2h-1zM412.3 101.9h1.1v0.8h-1.1zM418.4 102.6h0.7v1.2h-0.7zM419.6 103.1h0.7v2h-0.7z" fill="#4a4a4a" opacity="0.8" filter="url(#deb)"/>
<path d="M421.8 121.5h0.5v0.8h-0.5zM410.6 118.5h0.6v0.7h-0.6zM416.3 120.6h0.9v0.8h-0.9zM412.2 120.7h0.8v1.2h-0.8zM411.3 106.9h0.8v1h-0.8zM411.1 121h0.8v1.3h-0.8zM411.3 119.7h0.5v1.4h-0.5zM416.8 111.4h0.7v1.5h-0.7zM414 108.1h0.7v0.8h-0.7zM411.6 108.6h0.5v0.8h-0.5z" fill="#4a4a4a" opacity="0.8" filter="url(#deb)"/>
<path d="M422.4 135.4h0.8v0.9h-0.8zM425 134.4h0.6v0.6h-0.6zM421.5 133.1h0.8v1.1h-0.8zM420.7 136.8h0.9v0.7h-0.9zM429.5 136.5h0.7v1.4h-0.7zM423.5 137.1h0.8v1.5h-0.8zM422.8 139.7h0.8v1.2h-0.8zM423.7 135.8h0.5v0.7h-0.5z" fill="#4a4a4a" opacity="0.8" filter="url(#deb)"/>
<rect x="386.5" y="24.8" width="42.5" height="5" rx="1" fill="#2f2f2f" opacity="0.85" filter="url(#pinr)" transform="rotate(0 407.8 27.3)"/>
<rect x="429" y="25.2" width="18.5" height="3.5" rx="1" fill="#2f2f2f" opacity="0.85" filter="url(#pinr)" transform="rotate(0 438.2 27)"/>
<rect x="386.5" y="57.8" width="38" height="7.5" rx="1" fill="#2f2f2f" opacity="0.85" filter="url(#pinr)" transform="rotate(-4 405.5 61.5)"/>
<rect x="386.5" y="161.8" width="32.5" height="7.5" rx="1" fill="#2f2f2f" opacity="0.85" filter="url(#pinr)" transform="rotate(8 402.8 165.5)"/>
<rect x="386.5" y="196.1" width="9.5" height="7" rx="1" fill="#2f2f2f" opacity="0.85" filter="url(#pinr)" transform="rotate(0 391.2 199.6)"/>
<circle cx="421.5" cy="60" r="2.7" fill="#2a2a2a" opacity="0.4" filter="url(#spot)"/>
<circle cx="421.5" cy="60" r="1.3" fill="#dcdcdc" opacity="0.9" filter="url(#spot)"/>
<circle cx="416.5" cy="168.5" r="3" fill="#2a2a2a" opacity="0.4" filter="url(#spot)"/>
<circle cx="416.5" cy="168.5" r="1.6" fill="#dcdcdc" opacity="0.9" filter="url(#spot)"/>
</g>
<clipPath id="cE25"><rect x="455" y="24.5" width="44.5" height="179.5"/></clipPath>
<g clip-path="url(#cE25)">
<rect x="455.2" y="24.5" width="43.3" height="3" rx="1" fill="#2f2f2f" filter="url(#pinr)" transform="rotate(0 476.9 26)"/>
<rect x="455.2" y="58.5" width="43.1" height="6.5" rx="1" fill="#2f2f2f" filter="url(#pinr)" transform="rotate(-1 476.8 61.7)"/>
<rect x="455.2" y="165.1" width="43.1" height="6.5" rx="1" fill="#2f2f2f" filter="url(#pinr)" transform="rotate(3 476.8 168.3)"/>
<g filter="url(#bone)" fill="#626262">
<path d="M463.5 24.5C462.6 28.8 458.9 43.8 458.3 50C457.7 56.2 459.2 58.1 460 62C460.8 65.9 462 68.4 463 73.4C464 78.4 464.8 86.9 466 92C467.2 97.1 468.7 100.7 470 104C471.3 107.3 473.3 110.7 474 112L475.5 112C476.1 110.7 477.6 107.3 479 104C480.4 100.7 482.8 97.1 484 92C485.2 86.9 485.6 78.4 486.3 73.4C487 68.4 487.4 65.9 488 62C488.6 58.1 488.7 56.2 489.8 50C490.9 43.8 493.7 28.8 494.5 24.5Z"/>
<path d="M463 140C462.9 145 462.7 159.4 462.5 170C462.3 180.6 461.9 198.2 461.8 203.8L493.3 203.8C492.6 198.2 490 180.6 489 170C488 159.4 487.8 145 487.5 140Z"/>
</g>
<path d="M467.3 108.1h0.9v0.9h-0.9zM470.6 97.1h0.9v0.9h-0.9zM467.5 110h0.9v0.9h-0.9zM481.7 106.7h0.9v0.9h-0.9zM471.1 98.6h0.9v0.9h-0.9zM471.3 102.7h0.9v0.9h-0.9zM468.8 102.5h0.9v0.9h-0.9zM470.7 112.3h0.9v0.9h-0.9zM483.5 104.4h0.9v0.9h-0.9zM470.4 112.3h0.9v0.9h-0.9zM471.6 100.8h0.9v0.9h-0.9zM466 101.3h0.9v0.9h-0.9zM474.5 103.6h0.9v0.9h-0.9zM469.6 103.6h0.9v0.9h-0.9zM466.1 99h0.9v0.9h-0.9zM467.6 101.6h0.9v0.9h-0.9zM466.8 94.4h0.9v0.9h-0.9zM471.5 98.4h0.9v0.9h-0.9zM476.5 104.1h0.9v0.9h-0.9zM479.5 106.5h0.9v0.9h-0.9zM478.9 110.7h0.9v0.9h-0.9zM473 100.2h0.9v0.9h-0.9zM483.7 96.8h0.9v0.9h-0.9zM479 106.2h0.9v0.9h-0.9zM466.8 109.9h0.9v0.9h-0.9zM482.1 105.9h0.9v0.9h-0.9zM479.2 109.4h0.9v0.9h-0.9zM468.5 104h0.9v0.9h-0.9zM475.1 109.9h0.9v0.9h-0.9zM480.5 109.7h0.9v0.9h-0.9zM476.5 111h0.9v0.9h-0.9zM478.3 107.2h0.9v0.9h-0.9zM470.1 94.6h0.9v0.9h-0.9zM468.4 100.9h0.9v0.9h-0.9zM467.9 109.9h0.9v0.9h-0.9zM476.1 105.9h0.9v0.9h-0.9zM477.3 106.9h0.9v0.9h-0.9zM474.8 94.1h0.9v0.9h-0.9zM480.4 108.2h0.9v0.9h-0.9zM475.1 104.2h0.9v0.9h-0.9zM477.9 95.3h0.9v0.9h-0.9zM479.3 98.8h0.9v0.9h-0.9zM467.3 99h0.9v0.9h-0.9zM479.1 97.9h0.9v0.9h-0.9zM479.3 112.5h0.9v0.9h-0.9zM474.9 101.3h0.9v0.9h-0.9zM474.6 107h0.9v0.9h-0.9zM479.8 105.7h0.9v0.9h-0.9zM477.6 95.5h0.9v0.9h-0.9zM468.7 98.8h0.9v0.9h-0.9zM479.4 99.8h0.9v0.9h-0.9zM476.2 94.2h0.9v0.9h-0.9zM467.1 99.1h0.9v0.9h-0.9zM478.1 107.2h0.9v0.9h-0.9zM478.2 99.5h0.9v0.9h-0.9zM475.3 102.8h0.9v0.9h-0.9zM474.4 96.3h0.9v0.9h-0.9zM482.1 97.8h0.9v0.9h-0.9zM483.6 111.8h0.9v0.9h-0.9zM466.3 102.7h0.9v0.9h-0.9z" fill="#fff" opacity="0.75"/>
<path d="M479.5 140.9h0.7v0.8h-0.7zM470.9 140.8h0.6v1.1h-0.6zM470 139.6h0.9v0.7h-0.9zM479.5 139.5h0.9v1.3h-0.9zM471.2 140.7h0.7v0.6h-0.7zM468.1 139.5h0.7v0.9h-0.7zM470 139h0.6v1.4h-0.6zM468 140.3h0.9v0.7h-0.9zM481 140.1h0.9v0.9h-0.9zM473.2 139.2h1v1.1h-1z" fill="#4a4a4a" opacity="0.8" filter="url(#deb)"/>
<rect x="455.2" y="24.5" width="43.3" height="3" rx="1" fill="#2f2f2f" opacity="0.55" filter="url(#pinr)" transform="rotate(0 476.9 26)"/>
<rect x="455.2" y="58.5" width="43.1" height="6.5" rx="1" fill="#2f2f2f" opacity="0.55" filter="url(#pinr)" transform="rotate(-1 476.8 61.7)"/>
<rect x="455.2" y="165.1" width="43.1" height="6.5" rx="1" fill="#2f2f2f" opacity="0.55" filter="url(#pinr)" transform="rotate(3 476.8 168.3)"/>
<circle cx="475" cy="61.5" r="4" fill="#2a2a2a" opacity="0.4" filter="url(#spot)"/>
<circle cx="475" cy="61.5" r="2.6" fill="#f6f6f6" opacity="0.9" filter="url(#spot)"/>
<circle cx="473.5" cy="168.5" r="4" fill="#2a2a2a" opacity="0.4" filter="url(#spot)"/>
<circle cx="473.5" cy="168.5" r="2.6" fill="#f6f6f6" opacity="0.9" filter="url(#spot)"/>
</g>
<clipPath id="cE35"><rect x="511" y="24.5" width="44.4" height="179.5"/></clipPath>
<g clip-path="url(#cE35)">
<rect x="513" y="70" width="11" height="18" fill="#000" opacity="0.3" filter="url(#hz)"/>
<rect x="545" y="28" width="10.4" height="34" fill="#000" opacity="0.22" filter="url(#hz)"/>
<rect x="545" y="66" width="10.4" height="30" fill="#000" opacity="0.18" filter="url(#hz)"/>
<rect x="513" y="150" width="10" height="15" fill="#000" opacity="0.12" filter="url(#hz)"/>
<rect x="549" y="140" width="6.4" height="20" fill="#000" opacity="0.18" filter="url(#hz)"/>
<rect x="511" y="24.2" width="16" height="4.5" rx="1" fill="#2f2f2f" filter="url(#pinr)" transform="rotate(0 519 26.5)"/>
<rect x="513" y="58" width="41.5" height="9" rx="1" fill="#2f2f2f" filter="url(#pinr)" transform="rotate(-8 533.8 62.5)"/>
<rect x="514.7" y="80.5" width="39.6" height="4.5" rx="1" fill="#2f2f2f" filter="url(#pinr)" transform="rotate(-3 534.5 82.8)"/>
<rect x="519.1" y="164.8" width="36.3" height="7" rx="1" fill="#2f2f2f" filter="url(#pinr)" transform="rotate(5 537.2 168.3)"/>
<path d="M517 178 Q520.6 173.5 525 173.5 Q529.4 173.5 533 178 Q529.4 182.5 525 182.5 Q520.6 182.5 517 178Z" fill="#2f2f2f" filter="url(#pine)" transform="rotate(-14 525 178)"/>
<g filter="url(#bone)" fill="#626262">
<path d="M521.7 24.5C521.3 26.7 519.8 32.5 519.1 37.6C518.4 42.7 517.5 51.1 517.3 55.2C517.1 59.3 517.1 59.3 518 62.3C518.9 65.2 521.8 69.4 522.6 72.9C523.4 76.4 522 80.5 522.6 83.4C523.2 86.3 525.1 87.8 526.1 90.5C527.1 93.2 528 96.4 528.8 99.3C529.6 102.2 530.4 105.9 531.1 108.1C531.8 110.3 532.5 111.4 533.2 112.5C533.9 113.6 534.9 114.2 535.3 114.6L537.6 114.6C537.9 114.2 538.8 113.6 539.4 112.5C540 111.4 540.7 110.3 541.1 108.1C541.5 105.9 541.7 102.2 542 99.3C542.3 96.4 542.5 93.2 542.9 90.5C543.3 87.8 544.2 86.3 544.6 83.4C545 80.5 545.2 76.4 545.5 72.9C545.8 69.4 546.2 65.2 546.5 62.3C546.8 59.3 546.9 59.3 547.3 55.2C547.7 51.1 548.1 42.7 549 37.6C549.9 32.5 552 26.7 552.6 24.5Z"/>
<path d="M525.5 136.3C525.3 136.6 524.7 136.8 524.4 138C524.1 139.2 524 139.5 523.5 143.3C523 147.1 522.4 155.1 521.7 161C521 166.9 519.4 171.5 519.1 178.6C518.8 185.7 519.9 199.3 520 203.4L555.2 203.4C554.6 199.3 552.9 185.7 551.7 178.6C550.5 171.5 548.9 166.9 548.2 161C547.5 155.1 547.6 147.1 547.3 143.3C547 139.5 546.6 139.2 546.4 138C546.2 136.8 546.1 136.6 546 136.3Z"/>
</g>
<path d="M536.2 118.9h0.7v0.7h-0.7zM534.6 122.5h0.7v1.7h-0.7zM535.5 117.4h0.8v0.9h-0.8zM536.2 123.6h1.1v1.6h-1.1zM537.8 123.2h1.1v1.3h-1.1zM538.3 115.4h1v1.2h-1zM538.5 120.8h0.7v0.7h-0.7zM539.6 116.1h0.8v1.1h-0.8zM535.8 121.7h1.1v1h-1.1zM537.9 117.7h0.9v1.1h-0.9z" fill="#4a4a4a" opacity="0.8" filter="url(#deb)"/>
<path d="M538.5 131.6h0.8v1.9h-0.8zM539.5 131.9h1.2v2h-1.2zM539.3 131.6h0.8v0.9h-0.8z" fill="#4a4a4a" opacity="0.8" filter="url(#deb)"/>
<rect x="511" y="24.2" width="16" height="4.5" rx="1" fill="#2f2f2f" opacity="0.7" filter="url(#pinr)" transform="rotate(0 519 26.5)"/>
<rect x="513" y="58" width="41.5" height="9" rx="1" fill="#2f2f2f" opacity="0.7" filter="url(#pinr)" transform="rotate(-8 533.8 62.5)"/>
<rect x="514.7" y="80.5" width="39.6" height="4.5" rx="1" fill="#2f2f2f" opacity="0.7" filter="url(#pinr)" transform="rotate(-3 534.5 82.8)"/>
<rect x="519.1" y="164.8" width="36.3" height="7" rx="1" fill="#2f2f2f" opacity="0.7" filter="url(#pinr)" transform="rotate(5 537.2 168.3)"/>
<ellipse cx="525" cy="178" rx="6.4" ry="1.8" fill="#2f2f2f" opacity="0.35" filter="url(#pine)" transform="rotate(-14 525 178)"/>
<circle cx="531" cy="62.5" r="3.6" fill="#2a2a2a" opacity="0.4" filter="url(#spot)"/>
<circle cx="531" cy="62.5" r="2.2" fill="#dcdcdc" opacity="0.9" filter="url(#spot)"/>
<circle cx="533" cy="168.5" r="3.4" fill="#2a2a2a" opacity="0.4" filter="url(#spot)"/>
<circle cx="533" cy="168.5" r="2" fill="#dcdcdc" opacity="0.9" filter="url(#spot)"/>
</g>
<clipPath id="cE45"><rect x="572.4" y="24.5" width="44.6" height="179.5"/></clipPath>
<g clip-path="url(#cE45)">
<rect x="574" y="30" width="9" height="26" fill="#000" opacity="0.25" filter="url(#hz)"/>
<rect x="606" y="30" width="11" height="26" fill="#000" opacity="0.2" filter="url(#hz)"/>
<rect x="604" y="68" width="10" height="42" fill="#000" opacity="0.08" filter="url(#hz)"/>
<rect x="605" y="120" width="12" height="40" fill="#000" opacity="0.08" filter="url(#hz)"/>
<rect x="572.4" y="24.7" width="38.6" height="5" rx="1" fill="#2f2f2f" filter="url(#pinr)" transform="rotate(0 591.7 27.2)"/>
<rect x="572.8" y="57" width="40.8" height="10.5" rx="1" fill="#2f2f2f" filter="url(#pinr)" transform="rotate(0 593.2 62.3)"/>
<rect x="576.4" y="165.7" width="40.6" height="6.5" rx="1" fill="#2f2f2f" filter="url(#pinr)" transform="rotate(5 596.7 168.9)"/>
<rect x="577" y="197.5" width="13" height="5" rx="1" fill="#2f2f2f" filter="url(#pinr)" transform="rotate(0 583.5 200)"/>
<g filter="url(#bone)" fill="#626262">
<path d="M582.5 24.5C581.8 26.7 579.3 32.5 578.1 37.6C576.9 42.7 575.8 51.1 575.5 55.2C575.2 59.3 575.6 59.3 576.5 62.3C577.4 65.2 579.9 69.7 580.8 72.9C581.7 76.1 581.1 78.8 581.7 81.7C582.3 84.6 583.4 87.6 584.3 90.5C585.2 93.4 586.1 96.4 586.9 99.3C587.7 102.2 588.6 105.8 589.2 108.1C589.8 110.4 590 112.1 590.5 113.4C591 114.7 592 115.6 592.3 116L594.3 116C594.5 115.6 595 114.7 595.7 113.4C596.4 112.1 597.6 110.4 598.4 108.1C599.1 105.8 599.6 102.2 600.2 99.3C600.8 96.4 601.5 93.4 601.9 90.5C602.3 87.6 602.5 84.6 602.8 81.7C603.1 78.8 603.2 76.1 603.7 72.9C604.2 69.7 605.4 65.2 606 62.3C606.6 59.3 606.4 59.3 607.2 55.2C608 51.1 609.8 42.7 610.7 37.6C611.6 32.5 612.2 26.7 612.5 24.5Z"/>
<path d="M589.6 135.2C589 135.5 587 136.2 586 137C585 137.8 584 135.8 583.4 139.8C582.8 143.8 582.6 154.5 582.5 161C582.4 167.5 582.8 171.5 582.5 178.6C582.2 185.7 581.1 199.3 580.8 203.4L612.5 203.4C611.6 199.3 608.4 185.7 607.2 178.6C606 171.5 605.8 167.5 605.4 161C605 154.5 604.9 143.8 604.6 139.8C604.3 135.8 604.1 137.8 603.6 137C603.1 136.2 602.2 135.5 601.9 135.2Z"/>
</g>
<path d="M594.1 117.6h0.7v1h-0.7zM595.4 123.2h1v1.1h-1zM594.5 120.7h0.8v1.1h-0.8zM592.4 118.9h1.1v0.8h-1.1zM595 121.4h1v0.9h-1zM593.6 118.7h0.8v1.2h-0.8zM597.7 122.9h1v0.7h-1zM592.2 122h1.1v1.2h-1.1z" fill="#4a4a4a" opacity="0.8" filter="url(#deb)"/>
<path d="M598.2 130h0.9v2h-0.9zM598.7 132.6h1.3v1.1h-1.3z" fill="#4a4a4a" opacity="0.8" filter="url(#deb)"/>
<rect x="572.4" y="24.7" width="38.6" height="5" rx="1" fill="#2f2f2f" opacity="0.75" filter="url(#pinr)" transform="rotate(0 591.7 27.2)"/>
<rect x="572.8" y="57" width="40.8" height="10.5" rx="1" fill="#2f2f2f" opacity="0.75" filter="url(#pinr)" transform="rotate(0 593.2 62.3)"/>
<rect x="576.4" y="165.7" width="40.6" height="6.5" rx="1" fill="#2f2f2f" opacity="0.75" filter="url(#pinr)" transform="rotate(5 596.7 168.9)"/>
<rect x="577" y="197.5" width="13" height="5" rx="1" fill="#2f2f2f" opacity="0.75" filter="url(#pinr)" transform="rotate(0 583.5 200)"/>
<circle cx="592" cy="62.5" r="3.6" fill="#2a2a2a" opacity="0.4" filter="url(#spot)"/>
<circle cx="592" cy="62.5" r="2.2" fill="#dcdcdc" opacity="0.9" filter="url(#spot)"/>
<circle cx="592.5" cy="168" r="3.6" fill="#2a2a2a" opacity="0.4" filter="url(#spot)"/>
<circle cx="592.5" cy="168" r="2.2" fill="#dcdcdc" opacity="0.9" filter="url(#spot)"/>
</g>
<clipPath id="cE50"><rect x="633" y="24.5" width="44" height="179.5"/></clipPath>
<g clip-path="url(#cE50)">
<rect x="667" y="28" width="10" height="52" fill="#000" opacity="0.22" filter="url(#hz)"/>
<rect x="634" y="68" width="8" height="18" fill="#000" opacity="0.2" filter="url(#hz)"/>
<rect x="664" y="150" width="13" height="20" fill="#000" opacity="0.1" filter="url(#hz)"/>
<rect x="633" y="26" width="13" height="10" rx="1" fill="#2f2f2f" filter="url(#pinr)" transform="rotate(-30 639.5 31)"/>
<rect x="633" y="55.8" width="44" height="9.5" rx="1" fill="#2f2f2f" filter="url(#pinr)" transform="rotate(-18.5 655 60.5)"/>
<rect x="633" y="66.5" width="9" height="8" rx="1" fill="#2f2f2f" filter="url(#pinr)" transform="rotate(0 637.5 70.5)"/>
<rect x="633" y="160.8" width="44" height="8" rx="1" fill="#2f2f2f" filter="url(#pinr)" transform="rotate(-8 655 164.8)"/>
<rect x="633" y="196.6" width="44" height="6.5" rx="1" fill="#2f2f2f" filter="url(#pinr)" transform="rotate(0 655 199.8)"/>
<g filter="url(#bone)" fill="#626262">
<path d="M641.7 24.5C641.1 26.7 638.9 32.5 638.2 37.6C637.5 42.7 637.3 51.1 637.3 55.2C637.3 59.3 637.4 59.1 638 62C638.6 64.9 639.7 68.1 640.8 72.8C641.9 77.5 643.4 86 644.4 90.4C645.4 94.8 646.3 96.3 647 99.2C647.7 102.1 648.3 105.9 648.8 108C649.3 110.1 649.5 111 650 112C650.5 113 651.5 113.9 651.8 114.3L655.8 114.3C656.1 113.9 657 113 657.4 112C657.8 111 658 110.1 658.4 108C658.8 105.9 659.3 102.1 659.8 99.2C660.2 96.3 660.6 94.8 661.1 90.4C661.6 86 662.3 77.5 662.8 72.8C663.3 68.1 663.7 64.9 664 62C664.3 59.1 664.1 59.3 664.6 55.2C665.1 51.1 666.2 42.7 667.2 37.6C668.2 32.5 670.2 26.7 670.8 24.5Z"/>
<path d="M647.9 133.5C647.2 133.9 645 135 644 136C643 137 642.1 135.6 641.7 139.7C641.3 143.8 641.7 154.4 641.7 160.8C641.7 167.2 641.7 172.5 641.7 178.4C641.7 184.3 641.7 191.8 641.7 196C641.7 200.2 641.7 202.2 641.7 203.4L669 203.4C668.9 202.2 668.5 200.2 668.1 196C667.7 191.8 667 184.3 666.4 178.4C665.8 172.5 665.2 167.2 664.6 160.8C664 154.4 663.2 143.8 662.8 139.7C662.4 135.6 662.4 137 662 136C661.6 135 660.5 133.9 660.2 133.5Z"/>
</g>
<path d="M654.5 116.1h0.9v1.4h-0.9zM658.7 120.1h0.9v1.5h-0.9zM656.3 118.9h0.6v1.5h-0.6zM655.2 121.4h0.9v1h-0.9zM654.6 116.8h0.9v1.5h-0.9zM654.6 115.5h0.9v1.3h-0.9zM655.9 116.6h0.9v0.7h-0.9zM655.5 118.2h1.1v1.4h-1.1z" fill="#4a4a4a" opacity="0.8" filter="url(#deb)"/>
<path d="M657.8 130.4h0.8v1.1h-0.8zM657.9 131.1h0.8v0.8h-0.8z" fill="#4a4a4a" opacity="0.8" filter="url(#deb)"/>
<rect x="633" y="26" width="13" height="10" rx="1" fill="#2f2f2f" opacity="0.7" filter="url(#pinr)" transform="rotate(-30 639.5 31)"/>
<rect x="633" y="55.8" width="44" height="9.5" rx="1" fill="#2f2f2f" opacity="0.7" filter="url(#pinr)" transform="rotate(-18.5 655 60.5)"/>
<rect x="633" y="66.5" width="9" height="8" rx="1" fill="#2f2f2f" opacity="0.7" filter="url(#pinr)" transform="rotate(0 637.5 70.5)"/>
<rect x="633" y="160.8" width="44" height="8" rx="1" fill="#2f2f2f" opacity="0.7" filter="url(#pinr)" transform="rotate(-8 655 164.8)"/>
<rect x="633" y="196.6" width="44" height="6.5" rx="1" fill="#2f2f2f" opacity="0.7" filter="url(#pinr)" transform="rotate(0 655 199.8)"/>
<circle cx="651.5" cy="62.5" r="3.6" fill="#2a2a2a" opacity="0.4" filter="url(#spot)"/>
<circle cx="651.5" cy="62.5" r="2.2" fill="#dcdcdc" opacity="0.9" filter="url(#spot)"/>
<circle cx="651" cy="167" r="3.6" fill="#2a2a2a" opacity="0.4" filter="url(#spot)"/>
<circle cx="651" cy="167" r="2.2" fill="#dcdcdc" opacity="0.9" filter="url(#spot)"/>
</g>
<clipPath id="cL15"><rect x="389.3" y="212" width="47" height="178.5"/></clipPath>
<g clip-path="url(#cL15)">
<rect x="392" y="211.5" width="22" height="4" rx="1" fill="#2f2f2f" filter="url(#pinr)" transform="rotate(0 403 213.5)"/>
<rect x="391" y="247.5" width="27" height="8" rx="1" fill="#2f2f2f" filter="url(#pinr)" transform="rotate(-6 404.5 251.5)"/>
<rect x="416" y="241.3" width="20.3" height="6.5" rx="1" fill="#2f2f2f" filter="url(#pinr)" transform="rotate(-3 426.1 244.6)"/>
<rect x="390.3" y="349" width="43.4" height="8" rx="1" fill="#2f2f2f" filter="url(#pinr)" transform="rotate(5 412 353)"/>
<rect x="389.3" y="380.5" width="15.7" height="8" rx="1" fill="#2f2f2f" filter="url(#pinr)" transform="rotate(14 397.1 384.5)"/>
<g filter="url(#bone)" fill="#494949">
<path d="M392.9 212C393.2 216.7 394.2 233.7 394.7 240.2C395.2 246.7 395.6 247.9 396 250.8C396.4 253.8 396.8 253.8 397.3 257.9C397.8 262 398.5 272 399.1 275.5C399.7 279 400.7 278.4 401 279L425.5 279C425.6 278.4 426.1 279 426.4 275.5C426.7 272 427.1 262 427.3 257.9C427.5 253.8 427.3 253.8 427.3 250.8C427.3 247.9 427.3 246.7 427.3 240.2C427.3 233.7 427.3 216.7 427.3 212Z"/>
<path d="M401 278C401.4 278.8 401.8 280.9 403.5 282.5C405.2 284.1 408.8 286 411.4 287.8C414 289.6 418.1 292.2 419.4 293.1L421 293.1C421.3 292.2 422.3 289.6 422.9 287.8C423.5 286 424.2 284.1 424.6 282.5C425 280.9 425.4 278.8 425.5 278Z"/>
<path d="M400 325.7C400 329.1 400 340.6 400 346C400 351.4 400 355.1 400 358C400 360.9 400.4 358.6 400 363.6C399.6 368.7 397.8 383.8 397.3 388.3C396.8 392.8 397.1 390.1 397 390.5L430 390.5C430 390.1 430.3 392.8 429.9 388.3C429.4 383.8 427.9 368.7 427.3 363.6C426.7 358.6 426.8 360.9 426.5 358C426.2 355.1 425.8 351.4 425.5 346C425.2 340.6 424.8 329.1 424.6 325.7Z"/>
</g>
<path d="M412.5 287.1h0.9v1.1h-0.9zM416.3 290.1h0.8v0.8h-0.8zM408.8 284h1.1v1h-1.1zM419.3 287.9h1v1h-1zM423.3 282.7h1.2v1.1h-1.2zM406.1 288.1h0.8v2h-0.8zM412.4 281.2h0.8v1.3h-0.8zM416.3 290.4h0.7v1.3h-0.7zM405.9 290.7h0.7v0.8h-0.7zM402.4 283.7h1.2v1.9h-1.2zM417.9 291h1.2v1.2h-1.2zM405.3 290.2h1.1v0.8h-1.1zM416.3 283.5h0.9v1.2h-0.9zM404.9 279h0.8v1.2h-0.8zM423 280.5h1.3v1h-1.3zM409.2 288.9h1.2v1.3h-1.2zM402.1 284.7h0.9v1.9h-0.9zM405.4 283.4h1.2v0.8h-1.2zM410.4 288.7h1.1v0.8h-1.1zM401.8 279.8h1.2v1.1h-1.2zM418.2 289.8h0.9v1.1h-0.9zM423 286.4h0.8v1.7h-0.8zM408.3 282.3h0.6v1.7h-0.6zM422.1 286.6h1.2v0.8h-1.2zM406.4 284.7h1.3v2h-1.3zM409.9 282h0.9v1.4h-0.9zM422.3 281.2h1.2v1.7h-1.2zM419.9 288.3h1v1.2h-1zM408.3 283.3h1.1v0.9h-1.1zM405.5 288h0.8v0.9h-0.8zM401.8 285.6h0.8v2h-0.8zM421.3 290.9h0.8v0.9h-0.8zM403.2 285h1.1v1.3h-1.1zM406.4 284h1v1.6h-1zM418.2 289.2h1.1v0.9h-1.1zM420.3 282.5h1v1.2h-1zM418 281.4h0.8v1.1h-0.8zM404.5 289.6h1v1.2h-1zM410.1 290.9h1v1.1h-1zM419.6 286.8h1.3v0.9h-1.3zM411.9 288.8h1.2v1.9h-1.2zM401.9 282.5h0.7v1h-0.7zM423.4 286h1.2v1.2h-1.2zM420.9 284.4h0.8v1.8h-0.8zM422.8 280.3h1v1.6h-1z" fill="#4a4a4a" opacity="0.8" filter="url(#deb)"/>
<path d="M416.5 292.2h0.6v0.9h-0.6zM416.8 293.6h0.9v0.9h-0.9zM415.1 292h0.9v0.9h-0.9zM417.2 291.2h1v1.3h-1zM415.4 290.6h0.8v1.3h-0.8zM419.5 290.5h0.7v1.5h-0.7z" fill="#4a4a4a" opacity="0.8" filter="url(#deb)"/>
<rect x="392" y="211.5" width="22" height="4" rx="1" fill="#2f2f2f" opacity="0.75" filter="url(#pinr)" transform="rotate(0 403 213.5)"/>
<rect x="391" y="247.5" width="27" height="8" rx="1" fill="#2f2f2f" opacity="0.75" filter="url(#pinr)" transform="rotate(-6 404.5 251.5)"/>
<rect x="416" y="241.3" width="20.3" height="6.5" rx="1" fill="#2f2f2f" opacity="0.75" filter="url(#pinr)" transform="rotate(-3 426.1 244.6)"/>
<rect x="390.3" y="349" width="43.4" height="8" rx="1" fill="#2f2f2f" opacity="0.75" filter="url(#pinr)" transform="rotate(5 412 353)"/>
<rect x="389.3" y="380.5" width="15.7" height="8" rx="1" fill="#2f2f2f" opacity="0.75" filter="url(#pinr)" transform="rotate(14 397.1 384.5)"/>
<circle cx="408.8" cy="250.8" r="4.6" fill="#2a2a2a" opacity="0.4" filter="url(#spot)"/>
<circle cx="408.8" cy="250.8" r="3.2" fill="#ffffff" opacity="0.9" filter="url(#spot)"/>
<circle cx="408.8" cy="353.9" r="4.7" fill="#2a2a2a" opacity="0.4" filter="url(#spot)"/>
<circle cx="408.8" cy="353.9" r="3.3" fill="#ffffff" opacity="0.9" filter="url(#spot)"/>
<circle cx="410.5" cy="353.9" r="4" fill="#2a2a2a" opacity="0.4" filter="url(#spot)"/>
<circle cx="410.5" cy="353.9" r="2.6" fill="#ffffff" opacity="0.9" filter="url(#spot)"/>
<circle cx="424.6" cy="385.6" r="2.9" fill="#2a2a2a" opacity="0.4" filter="url(#spot)"/>
<circle cx="424.6" cy="385.6" r="1.5" fill="#ffffff" opacity="0.9" filter="url(#spot)"/>
</g>
<clipPath id="cL25"><rect x="441.5" y="212" width="60.2" height="178.5"/></clipPath>
<g clip-path="url(#cL25)">
<path d="M444 219 Q449.9 213.2 457 213.2 Q464.1 213.2 470 219 Q464.1 224.8 457 224.8 Q449.9 224.8 444 219Z" fill="#2f2f2f" filter="url(#pine)" transform="rotate(-23 457 219)"/>
<path d="M485 227 Q488.8 224.7 493.4 224.7 Q497.9 224.7 501.7 227 Q497.9 229.3 493.4 229.3 Q488.8 229.3 485 227Z" fill="#2f2f2f" filter="url(#pine)" transform="rotate(3 493.4 227)"/>
<path d="M485 242 Q487.9 239.7 491.5 239.7 Q495.1 239.7 498 242 Q495.1 244.3 491.5 244.3 Q487.9 244.3 485 242Z" fill="#2f2f2f" filter="url(#pine)" transform="rotate(-4 491.5 242)"/>
<path d="M444.5 253 Q448.7 246.2 453.8 246.2 Q458.8 246.2 463 253 Q458.8 259.8 453.8 259.8 Q448.7 259.8 444.5 253Z" fill="#2f2f2f" filter="url(#pine)" transform="rotate(-8 453.8 253)"/>
<path d="M484 250 Q488 245.1 492.9 245.1 Q497.7 245.1 501.7 250 Q497.7 254.9 492.9 254.9 Q488 254.9 484 250Z" fill="#2f2f2f" filter="url(#pine)" transform="rotate(-2 492.9 250)"/>
<path d="M484 266.7 Q487.1 264.4 491 264.4 Q494.9 264.4 498 266.7 Q494.9 269 491 269 Q487.1 269 484 266.7Z" fill="#2f2f2f" filter="url(#pine)" transform="rotate(8 491 266.7)"/>
<path d="M447 348.5 Q450.6 342.2 455 342.2 Q459.4 342.2 463 348.5 Q459.4 354.8 455 354.8 Q450.6 354.8 447 348.5Z" fill="#2f2f2f" filter="url(#pine)" transform="rotate(28 455 348.5)"/>
<path d="M481 352.2 Q485.7 347.7 491.4 347.7 Q497 347.7 501.7 352.2 Q497 356.7 491.4 356.7 Q485.7 356.7 481 352.2Z" fill="#2f2f2f" filter="url(#pine)" transform="rotate(2 491.4 352.2)"/>
<path d="M441.5 386 Q445.2 379.7 449.8 379.7 Q454.3 379.7 458 386 Q454.3 392.3 449.8 392.3 Q445.2 392.3 441.5 386Z" fill="#2f2f2f" filter="url(#pine)" transform="rotate(-14 449.8 386)"/>
<path d="M488 387.5 Q490.5 383.9 493.5 383.9 Q496.5 383.9 499 387.5 Q496.5 391.1 493.5 391.1 Q490.5 391.1 488 387.5Z" fill="#2f2f2f" filter="url(#pine)" transform="rotate(0 493.5 387.5)"/>
<g filter="url(#bone)" fill="#494949">
<path d="M455.5 212C455.5 216.7 455.1 232.3 455.5 240.2C455.9 248.1 457.4 253.7 458.1 259.6C458.8 265.5 459.3 271.4 459.9 275.5C460.5 279.6 460.7 281.4 461.7 284.3C462.7 287.2 464.5 290.5 466.1 293.1C467.7 295.8 470 298.6 471.3 300.2C472.6 301.8 473.6 302.5 474 303L478 303C478.2 302.5 478.8 301.8 479.3 300.2C479.8 298.6 480.4 295.8 481 293.1C481.6 290.5 482.2 287.2 482.8 284.3C483.4 281.4 484 279.6 484.6 275.5C485.2 271.4 485.9 265.5 486.3 259.6C486.7 253.7 486.8 248.1 486.9 240.2C487 232.3 487.1 216.7 487.2 212Z"/>
<path d="M460 323.5C459.7 323.8 458.4 321.8 458.1 325.5C457.8 329.2 458.4 340.9 458.1 346C457.8 351.1 456.9 353.1 456.5 356C456.1 358.9 456.1 358.2 455.5 363.6C454.9 369 453.3 383.8 452.8 388.3C452.3 392.8 452.6 390.1 452.6 390.5L491 390.5C490.9 390.1 491.5 392.8 490.7 388.3C489.9 383.8 487.2 369 486.3 363.6C485.4 358.2 485.8 358.9 485.5 356C485.2 353.1 484.9 351.1 484.6 346C484.3 340.9 484.1 329.2 483.7 325.5C483.3 321.8 482.7 323.8 482.5 323.5Z"/>
</g>
<path d="M471 274.8h0.9v0.9h-0.9zM468.8 300.2h0.9v0.9h-0.9zM468.9 285.5h0.9v0.9h-0.9zM469.9 279.8h0.9v0.9h-0.9zM481 301.9h0.9v0.9h-0.9zM470 271.5h0.9v0.9h-0.9zM478 271.7h0.9v0.9h-0.9zM462.1 298.3h0.9v0.9h-0.9zM471.3 295.2h0.9v0.9h-0.9zM470.9 297.5h0.9v0.9h-0.9zM472.1 270.2h0.9v0.9h-0.9zM462.3 285h0.9v0.9h-0.9zM476.1 298.6h0.9v0.9h-0.9zM464 287.6h0.9v0.9h-0.9zM470.2 283.2h0.9v0.9h-0.9zM465.2 274.8h0.9v0.9h-0.9zM473.5 299.2h0.9v0.9h-0.9zM464.4 282.6h0.9v0.9h-0.9zM479.7 300.7h0.9v0.9h-0.9zM466.3 268.8h0.9v0.9h-0.9zM482.7 301.1h0.9v0.9h-0.9zM472.6 266h0.9v0.9h-0.9zM482.4 278.7h0.9v0.9h-0.9zM481.9 287.6h0.9v0.9h-0.9zM480.1 270.1h0.9v0.9h-0.9zM479.3 272.4h0.9v0.9h-0.9zM470.9 296.2h0.9v0.9h-0.9zM480.2 271h0.9v0.9h-0.9zM466.8 279.2h0.9v0.9h-0.9zM473.4 278.6h0.9v0.9h-0.9zM464.7 273.4h0.9v0.9h-0.9zM477.9 298.1h0.9v0.9h-0.9zM462.9 285.4h0.9v0.9h-0.9zM478.7 265.4h0.9v0.9h-0.9zM480.4 268.5h0.9v0.9h-0.9zM475.2 284.9h0.9v0.9h-0.9zM475.8 275.6h0.9v0.9h-0.9zM471.2 286.1h0.9v0.9h-0.9zM471.4 289h0.9v0.9h-0.9zM471.8 280.7h0.9v0.9h-0.9zM462.5 287.5h0.9v0.9h-0.9zM472.8 272.9h0.9v0.9h-0.9zM478.8 293.6h0.9v0.9h-0.9zM472.1 270.8h0.9v0.9h-0.9zM472.4 268.1h0.9v0.9h-0.9zM464.8 280.4h0.9v0.9h-0.9zM464 280.8h0.9v0.9h-0.9zM473.2 265.5h0.9v0.9h-0.9zM476 267.1h0.9v0.9h-0.9zM478.1 293.6h0.9v0.9h-0.9zM473.3 266.1h0.9v0.9h-0.9zM473.1 278.4h0.9v0.9h-0.9zM482.9 269.2h0.9v0.9h-0.9zM480.9 301.9h0.9v0.9h-0.9zM478.1 295h0.9v0.9h-0.9zM466.3 301.3h0.9v0.9h-0.9zM472.8 300.4h0.9v0.9h-0.9zM482.2 270.3h0.9v0.9h-0.9zM479.3 299.4h0.9v0.9h-0.9zM463.4 277.3h0.9v0.9h-0.9zM478.6 270h0.9v0.9h-0.9zM481.7 274.4h0.9v0.9h-0.9zM479.9 269.5h0.9v0.9h-0.9zM473 299h0.9v0.9h-0.9zM466.6 274h0.9v0.9h-0.9zM473.1 276.1h0.9v0.9h-0.9zM462.8 270.9h0.9v0.9h-0.9zM465.5 299.6h0.9v0.9h-0.9zM477 298h0.9v0.9h-0.9zM465.7 293.8h0.9v0.9h-0.9zM464.5 284.2h0.9v0.9h-0.9zM476 277.7h0.9v0.9h-0.9zM481.2 285.1h0.9v0.9h-0.9zM474.8 297.5h0.9v0.9h-0.9zM464.3 301.7h0.9v0.9h-0.9zM475.9 279h0.9v0.9h-0.9zM479.5 274.1h0.9v0.9h-0.9zM483.8 285.9h0.9v0.9h-0.9zM469.9 293.1h0.9v0.9h-0.9zM471.7 270.7h0.9v0.9h-0.9z" fill="#fff" opacity="0.75"/>
<path d="M477.6 323.4h0.9v0.9h-0.9zM479.5 329.6h0.9v0.9h-0.9zM475 351.5h0.9v0.9h-0.9zM473.6 341.9h0.9v0.9h-0.9zM466.8 322.1h0.9v0.9h-0.9zM459.8 326.5h0.9v0.9h-0.9zM474.4 335h0.9v0.9h-0.9zM471.8 348.9h0.9v0.9h-0.9zM462.3 328.8h0.9v0.9h-0.9zM475.3 322.7h0.9v0.9h-0.9zM459.1 332.6h0.9v0.9h-0.9zM461.7 332.7h0.9v0.9h-0.9zM464.6 339.5h0.9v0.9h-0.9zM473.7 328.1h0.9v0.9h-0.9zM474.6 336.2h0.9v0.9h-0.9zM462.4 350.1h0.9v0.9h-0.9zM465.1 326.5h0.9v0.9h-0.9zM461.4 341.1h0.9v0.9h-0.9zM480.8 345.5h0.9v0.9h-0.9zM469 329.9h0.9v0.9h-0.9zM459.3 341.3h0.9v0.9h-0.9zM473.1 332.5h0.9v0.9h-0.9zM475.1 335.3h0.9v0.9h-0.9zM482.4 344h0.9v0.9h-0.9zM465.2 349.1h0.9v0.9h-0.9zM460.1 337.9h0.9v0.9h-0.9zM469.1 329.1h0.9v0.9h-0.9zM460.5 345.4h0.9v0.9h-0.9zM459.3 338.5h0.9v0.9h-0.9zM482.5 326.3h0.9v0.9h-0.9zM464 340.2h0.9v0.9h-0.9zM471.7 341.2h0.9v0.9h-0.9zM479.3 327.2h0.9v0.9h-0.9zM466.7 331h0.9v0.9h-0.9zM460.2 348.7h0.9v0.9h-0.9zM478.6 343.5h0.9v0.9h-0.9zM459.2 347.3h0.9v0.9h-0.9zM477.6 336h0.9v0.9h-0.9zM477.5 335.6h0.9v0.9h-0.9zM464.6 325.2h0.9v0.9h-0.9zM464.8 323.2h0.9v0.9h-0.9zM467.4 344.5h0.9v0.9h-0.9zM476.4 347.4h0.9v0.9h-0.9zM476.8 330h0.9v0.9h-0.9zM472.8 335.1h0.9v0.9h-0.9z" fill="#fff" opacity="0.75"/>
<path d="M478.5 312h0.8v1.5h-0.8zM480.6 305h1.1v0.7h-1.1zM472.1 305.4h1v1.9h-1zM478 307.5h1.1v1.1h-1.1zM471.9 320.9h1v1.6h-1zM477 322.5h0.9v1.7h-0.9zM477.4 319.7h0.9v1.6h-0.9zM475.8 307.1h0.7v1.5h-0.7zM469.9 320.9h0.7v0.8h-0.7zM470.3 321.4h0.8v0.9h-0.8zM469.3 301h1v1.5h-1zM477.4 316.9h0.6v1.4h-0.6zM473.4 318.8h1.1v1.8h-1.1zM469.8 320h1.1v1.9h-1.1zM470.3 304.7h0.7v0.8h-0.7zM479.2 318.7h1v1.7h-1zM476.6 306.6h0.7v0.8h-0.7zM478.1 304.7h0.8v1.2h-0.8zM469.3 305.9h0.8v1.6h-0.8zM473.4 307.4h1.2v1.3h-1.2zM479.2 314.2h0.6v1.2h-0.6zM474.2 317.8h0.8v1.6h-0.8zM475.5 305h1.1v0.8h-1.1zM478.8 303.9h0.6v1h-0.6zM478.1 322.5h0.6v1.3h-0.6zM474.9 318.3h0.7v1.3h-0.7zM473.2 319.1h0.8v1.9h-0.8zM472.4 304.9h1v1.3h-1zM470.3 314.6h0.6v1.7h-0.6zM477.4 318.1h1v1.1h-1zM473.8 309.1h1.1v0.8h-1.1zM479.7 300.6h0.7v1h-0.7zM479.8 311.5h0.8v1.8h-0.8zM471.8 310.6h0.9v1.6h-0.9zM478 314.9h0.8v1.1h-0.8zM470.9 319.4h1v1.6h-1zM471 310.1h1.1v1.4h-1.1zM470.5 310.6h1.1v1h-1.1zM471.3 306.9h1v1.7h-1zM470.9 303.6h0.7v1.1h-0.7zM475.3 303.7h0.8v0.9h-0.8zM480.7 316.8h0.7v1.9h-0.7zM470.2 308.8h1.2v1.7h-1.2zM477.8 310h0.7v1.5h-0.7zM470.3 304.7h0.8v0.8h-0.8z" fill="#4a4a4a" opacity="0.8" filter="url(#deb)"/>
<ellipse cx="457" cy="219" rx="10.4" ry="2.3" fill="#2f2f2f" opacity="0.35" filter="url(#pine)" transform="rotate(-23 457 219)"/>
<ellipse cx="493.4" cy="227" rx="6.7" ry="0.9" fill="#2f2f2f" opacity="0.35" filter="url(#pine)" transform="rotate(3 493.4 227)"/>
<ellipse cx="491.5" cy="242" rx="5.2" ry="0.9" fill="#2f2f2f" opacity="0.35" filter="url(#pine)" transform="rotate(-4 491.5 242)"/>
<ellipse cx="453.8" cy="253" rx="7.4" ry="2.6" fill="#2f2f2f" opacity="0.35" filter="url(#pine)" transform="rotate(-8 453.8 253)"/>
<ellipse cx="492.9" cy="250" rx="7.1" ry="1.9" fill="#2f2f2f" opacity="0.35" filter="url(#pine)" transform="rotate(-2 492.9 250)"/>
<ellipse cx="491" cy="266.7" rx="5.6" ry="0.9" fill="#2f2f2f" opacity="0.35" filter="url(#pine)" transform="rotate(8 491 266.7)"/>
<ellipse cx="455" cy="348.5" rx="6.4" ry="2.4" fill="#2f2f2f" opacity="0.35" filter="url(#pine)" transform="rotate(28 455 348.5)"/>
<ellipse cx="491.4" cy="352.2" rx="8.3" ry="1.8" fill="#2f2f2f" opacity="0.35" filter="url(#pine)" transform="rotate(2 491.4 352.2)"/>
<ellipse cx="449.8" cy="386" rx="6.6" ry="2.4" fill="#2f2f2f" opacity="0.35" filter="url(#pine)" transform="rotate(-14 449.8 386)"/>
<ellipse cx="493.5" cy="387.5" rx="4.4" ry="1.4" fill="#2f2f2f" opacity="0.35" filter="url(#pine)" transform="rotate(0 493.5 387.5)"/>
<circle cx="472" cy="251" r="3" fill="#2a2a2a" opacity="0.4" filter="url(#spot)"/>
<circle cx="472" cy="251" r="1.6" fill="#dcdcdc" opacity="0.9" filter="url(#spot)"/>
<circle cx="471" cy="352.5" r="3.4" fill="#2a2a2a" opacity="0.4" filter="url(#spot)"/>
<circle cx="471" cy="352.5" r="2" fill="#dcdcdc" opacity="0.9" filter="url(#spot)"/>
</g>
<clipPath id="cL35"><rect x="508.1" y="212" width="43.4" height="178.5"/></clipPath>
<g clip-path="url(#cL35)">
<rect x="508.1" y="212.5" width="18.9" height="6" rx="1" fill="#2f2f2f" filter="url(#pinr)" transform="rotate(-4 517.5 215.5)"/>
<rect x="509.5" y="245.8" width="39.1" height="7.5" rx="1" fill="#2f2f2f" filter="url(#pinr)" transform="rotate(-4 529 249.6)"/>
<rect x="540" y="237" width="8.5" height="6" rx="1" fill="#2f2f2f" filter="url(#pinr)" transform="rotate(0 544.2 240)"/>
<rect x="512.2" y="350" width="39.3" height="7" rx="1" fill="#2f2f2f" filter="url(#pinr)" transform="rotate(3 531.9 353.5)"/>
<rect x="513" y="383.5" width="23" height="6" rx="1" fill="#2f2f2f" filter="url(#pinr)" transform="rotate(8 524.5 386.5)"/>
<g filter="url(#bone)" fill="#494949">
<path d="M512.2 211.8C512.3 217.8 512.1 240.1 513 248C513.9 255.9 515.8 252 517.6 259C519.4 266 522.2 281 524 290C525.8 299 528.1 308.3 528.4 313C528.7 317.7 527.1 316.2 526 318C524.9 319.8 522.6 320.1 521.6 323.8C520.6 327.5 520.7 335.1 520.3 340C519.9 344.9 519.9 344.7 519 353C518.1 361.3 515.6 383.8 514.9 390L551.3 390C550.6 383.8 547.9 361.3 547 353C546.1 344.7 546.3 344.9 545.9 340C545.5 335.1 545.4 327.5 544.6 323.8C543.8 320.1 541.9 319.8 541 318C540.1 316.2 539.4 317.7 539.2 313C539 308.3 539.5 299 540 290C540.5 281 541.4 266 541.9 259C542.4 252 542.8 255.9 543 248C543.2 240.1 543.2 217.8 543.2 211.8Z"/>
</g>
<rect x="508.1" y="212.5" width="18.9" height="6" rx="1" fill="#2f2f2f" opacity="0.7" filter="url(#pinr)" transform="rotate(-4 517.5 215.5)"/>
<rect x="509.5" y="245.8" width="39.1" height="7.5" rx="1" fill="#2f2f2f" opacity="0.7" filter="url(#pinr)" transform="rotate(-4 529 249.6)"/>
<rect x="540" y="237" width="8.5" height="6" rx="1" fill="#2f2f2f" opacity="0.7" filter="url(#pinr)" transform="rotate(0 544.2 240)"/>
<rect x="512.2" y="350" width="39.3" height="7" rx="1" fill="#2f2f2f" opacity="0.7" filter="url(#pinr)" transform="rotate(3 531.9 353.5)"/>
<rect x="513" y="383.5" width="23" height="6" rx="1" fill="#2f2f2f" opacity="0.7" filter="url(#pinr)" transform="rotate(8 524.5 386.5)"/>
<circle cx="527" cy="248.4" r="4.4" fill="#2a2a2a" opacity="0.4" filter="url(#spot)"/>
<circle cx="527" cy="248.4" r="3" fill="#ffffff" opacity="0.9" filter="url(#spot)"/>
<circle cx="531.2" cy="353.6" r="4.6" fill="#2a2a2a" opacity="0.4" filter="url(#spot)"/>
<circle cx="531.2" cy="353.6" r="3.2" fill="#ffffff" opacity="0.9" filter="url(#spot)"/>
</g>
<clipPath id="cL45"><rect x="571.6" y="212" width="39.4" height="178.5"/></clipPath>
<g clip-path="url(#cL45)">
<rect x="571.6" y="212.5" width="23.4" height="6" rx="1" fill="#2f2f2f" filter="url(#pinr)" transform="rotate(-5 583.3 215.5)"/>
<rect x="572.9" y="247.7" width="35.1" height="6.5" rx="1" fill="#2f2f2f" filter="url(#pinr)" transform="rotate(-3 590.5 250.9)"/>
<rect x="574.3" y="351.1" width="35.3" height="7.5" rx="1" fill="#2f2f2f" filter="url(#pinr)" transform="rotate(6 592 354.9)"/>
<rect x="575" y="384.5" width="25" height="5" rx="1" fill="#2f2f2f" filter="url(#pinr)" transform="rotate(5 587.5 387)"/>
<g filter="url(#bone)" fill="#494949">
<path d="M575.6 211.8C575.8 218.2 576.3 242.1 577 250C577.7 257.9 578.6 252.3 579.7 259C580.8 265.7 582.4 281 583.5 290C584.6 299 586.6 308.7 586.4 313C586.1 317.3 583.4 313.8 582 316C580.6 318.2 579 320 578.3 326.5C577.6 333 578.5 344.4 578 355C577.5 365.6 576 384.2 575.6 390L608 390C607.7 384.2 606.7 365.6 606 355C605.3 344.4 604.7 333 604 326.5C603.3 320 602.5 318.2 602 316C601.5 313.8 601.2 317.3 601.3 313C601.4 308.7 602 299 602.5 290C603 281 603.6 265.7 604 259C604.4 252.3 604.8 257.9 605 250C605.2 242.1 605.2 218.2 605.3 211.8Z"/>
</g>
<rect x="571.6" y="212.5" width="23.4" height="6" rx="1" fill="#2f2f2f" opacity="0.65" filter="url(#pinr)" transform="rotate(-5 583.3 215.5)"/>
<rect x="572.9" y="247.7" width="35.1" height="6.5" rx="1" fill="#2f2f2f" opacity="0.65" filter="url(#pinr)" transform="rotate(-3 590.5 250.9)"/>
<rect x="574.3" y="351.1" width="35.3" height="7.5" rx="1" fill="#2f2f2f" opacity="0.65" filter="url(#pinr)" transform="rotate(6 592 354.9)"/>
<rect x="575" y="384.5" width="25" height="5" rx="1" fill="#2f2f2f" opacity="0.65" filter="url(#pinr)" transform="rotate(5 587.5 387)"/>
<circle cx="590.5" cy="250.6" r="4" fill="#2a2a2a" opacity="0.4" filter="url(#spot)"/>
<circle cx="590.5" cy="250.6" r="2.6" fill="#e8e8e8" opacity="0.9" filter="url(#spot)"/>
<circle cx="592" cy="355" r="4" fill="#2a2a2a" opacity="0.4" filter="url(#spot)"/>
<circle cx="592" cy="355" r="2.6" fill="#e8e8e8" opacity="0.9" filter="url(#spot)"/>
</g>
<clipPath id="cL50"><rect x="624.2" y="212" width="56.8" height="178.5"/></clipPath>
<g clip-path="url(#cL50)">
<rect x="624.2" y="213" width="30.8" height="6" rx="1" fill="#2f2f2f" filter="url(#pinr)" transform="rotate(-8 639.6 216)"/>
<rect x="625.3" y="244" width="52.2" height="8" rx="1" fill="#2f2f2f" filter="url(#pinr)" transform="rotate(-10.5 651.4 248)"/>
<rect x="627.9" y="349.2" width="45.1" height="6.5" rx="1" fill="#2f2f2f" filter="url(#pinr)" transform="rotate(5.5 650.5 352.5)"/>
<path d="M668 351 Q670.9 347.4 674.5 347.4 Q678.1 347.4 681 351 Q678.1 354.6 674.5 354.6 Q670.9 354.6 668 351Z" fill="#2f2f2f" filter="url(#pine)" transform="rotate(0 674.5 351)"/>
<path d="M668 366 Q670.9 363.3 674.5 363.3 Q678.1 363.3 681 366 Q678.1 368.7 674.5 368.7 Q670.9 368.7 668 366Z" fill="#2f2f2f" filter="url(#pine)" transform="rotate(0 674.5 366)"/>
<rect x="630" y="383.5" width="32" height="6" rx="1" fill="#2f2f2f" filter="url(#pinr)" transform="rotate(10 646 386.5)"/>
<g filter="url(#bone)" fill="#494949">
<path d="M637.7 211.8C637.8 218 638 241.1 638.5 249C639 256.9 639.5 252.2 640.4 259C641.3 265.8 642.9 281 644 290C645.1 299 647.4 308.5 647.2 313C647 317.5 644.1 314.8 643 317C641.9 319.2 641.1 320.7 640.4 326.5C639.7 332.3 640.4 341.4 639 352C637.6 362.6 633.4 383.7 632.3 390L672.8 390C671.7 383.7 667.4 362.6 666 352C664.6 341.4 665.2 332.3 664.7 326.5C664.2 320.7 663.5 319.2 663 317C662.5 314.8 662 317.5 662 313C662 308.5 662.5 299 663 290C663.5 281 664.2 265.8 664.7 259C665.2 252.2 665.8 256.9 666 249C666.2 241.1 666.1 218 666.1 211.8Z"/>
</g>
<rect x="624.2" y="213" width="30.8" height="6" rx="1" fill="#2f2f2f" opacity="0.7" filter="url(#pinr)" transform="rotate(-8 639.6 216)"/>
<rect x="625.3" y="244" width="52.2" height="8" rx="1" fill="#2f2f2f" opacity="0.7" filter="url(#pinr)" transform="rotate(-10.5 651.4 248)"/>
<rect x="627.9" y="349.2" width="45.1" height="6.5" rx="1" fill="#2f2f2f" opacity="0.7" filter="url(#pinr)" transform="rotate(5.5 650.5 352.5)"/>
<ellipse cx="674.5" cy="351" rx="5.2" ry="1.4" fill="#2f2f2f" opacity="0.35" filter="url(#pine)" transform="rotate(0 674.5 351)"/>
<ellipse cx="674.5" cy="366" rx="5.2" ry="1" fill="#2f2f2f" opacity="0.35" filter="url(#pine)" transform="rotate(0 674.5 366)"/>
<rect x="630" y="383.5" width="32" height="6" rx="1" fill="#2f2f2f" opacity="0.7" filter="url(#pinr)" transform="rotate(10 646 386.5)"/>
<circle cx="649.9" cy="249.8" r="4.4" fill="#2a2a2a" opacity="0.4" filter="url(#spot)"/>
<circle cx="649.9" cy="249.8" r="3" fill="#ffffff" opacity="0.9" filter="url(#spot)"/>
<circle cx="651.3" cy="353" r="4.2" fill="#2a2a2a" opacity="0.4" filter="url(#spot)"/>
<circle cx="651.3" cy="353" r="2.8" fill="#ffffff" opacity="0.9" filter="url(#spot)"/>
</g>
</g>
<g id="labels" fill="#000">
<text x="8.9" y="22.5" font-size="29.6" font-weight="bold" fill="#000" textLength="22.4" lengthAdjust="spacingAndGlyphs">A</text>
<text x="59.1" y="17" font-size="14" fill="#000" textLength="42.1" lengthAdjust="spacingAndGlyphs">Day 15</text>
<text x="116.2" y="17" font-size="14" fill="#000" textLength="42" lengthAdjust="spacingAndGlyphs">Day 25</text>
<text x="176.3" y="17" font-size="14" fill="#000" textLength="42" lengthAdjust="spacingAndGlyphs">Day 35</text>
<text x="235.6" y="17" font-size="14" fill="#000" textLength="42.2" lengthAdjust="spacingAndGlyphs">Day 45</text>
<text x="292.9" y="17" font-size="14" fill="#000" textLength="41.7" lengthAdjust="spacingAndGlyphs">Day 50</text>
<text x="397.9" y="17" font-size="14" fill="#000" textLength="41.5" lengthAdjust="spacingAndGlyphs">Day 15</text>
<text x="454.8" y="17" font-size="14" fill="#000" textLength="42" lengthAdjust="spacingAndGlyphs">Day 25</text>
<text x="515.2" y="17" font-size="14" fill="#000" textLength="41.5" lengthAdjust="spacingAndGlyphs">Day 35</text>
<text x="574.2" y="17" font-size="14" fill="#000" textLength="41.9" lengthAdjust="spacingAndGlyphs">Day 45</text>
<text x="631.6" y="17" font-size="14" fill="#000" textLength="41.9" lengthAdjust="spacingAndGlyphs">Day 50</text>
<text x="10" y="118.9" font-size="14.3" fill="#000" textLength="48.5" lengthAdjust="spacingAndGlyphs">Control</text>
<text x="21.4" y="298.9" font-size="14.3" fill="#000" textLength="25" lengthAdjust="spacingAndGlyphs">Dist</text>
<text x="354.5" y="118.9" font-size="14.3" fill="#000" textLength="31.4" lengthAdjust="spacingAndGlyphs">Early</text>
<text x="355.3" y="299.1" font-size="14.3" fill="#000" textLength="27" lengthAdjust="spacingAndGlyphs">Late</text>
<text x="33.1" y="385.9" font-size="8" font-weight="bold" fill="#000" textLength="18" lengthAdjust="spacingAndGlyphs">1mm</text>
<rect x="33.1" y="387.9" width="18.1" height="1" fill="#000"/>
</g>
<g id="charts" fill="#262626">
<text x="9.7" y="425.1" font-size="30.3" font-weight="bold" fill="#000">B</text>
<rect x="58" y="665.3" width="21.6" height="45.9" fill="#e0ecb5" stroke="#2b2b2b" stroke-width="0.9"/>
<rect x="79.6" y="699" width="21.6" height="12.2" fill="#a6ce94" stroke="#2b2b2b" stroke-width="0.9"/>
<rect x="101.2" y="675.3" width="21.6" height="35.9" fill="#58a36a" stroke="#2b2b2b" stroke-width="0.9"/>
<rect x="122.8" y="647" width="21.6" height="64.2" fill="#216c40" stroke="#2b2b2b" stroke-width="0.9"/>
<rect x="165.8" y="555.6" width="21.6" height="155.6" fill="#e0ecb5" stroke="#2b2b2b" stroke-width="0.9"/>
<rect x="187.4" y="640" width="21.6" height="71.2" fill="#a6ce94" stroke="#2b2b2b" stroke-width="0.9"/>
<rect x="209" y="638.4" width="21.6" height="72.8" fill="#58a36a" stroke="#2b2b2b" stroke-width="0.9"/>
<rect x="230.6" y="604.2" width="21.6" height="107" fill="#216c40" stroke="#2b2b2b" stroke-width="0.9"/>
<rect x="274" y="531.1" width="21.6" height="180.1" fill="#e0ecb5" stroke="#2b2b2b" stroke-width="0.9"/>
<rect x="295.6" y="590" width="21.6" height="121.2" fill="#a6ce94" stroke="#2b2b2b" stroke-width="0.9"/>
<rect x="317.2" y="626.4" width="21.6" height="84.8" fill="#58a36a" stroke="#2b2b2b" stroke-width="0.9"/>
<rect x="338.8" y="570.3" width="21.6" height="140.9" fill="#216c40" stroke="#2b2b2b" stroke-width="0.9"/>
<rect x="382" y="542.2" width="21.6" height="169" fill="#e0ecb5" stroke="#2b2b2b" stroke-width="0.9"/>
<rect x="403.6" y="591.7" width="21.6" height="119.5" fill="#a6ce94" stroke="#2b2b2b" stroke-width="0.9"/>
<rect x="425.2" y="635" width="21.6" height="76.2" fill="#58a36a" stroke="#2b2b2b" stroke-width="0.9"/>
<rect x="446.8" y="562.2" width="21.6" height="149" fill="#216c40" stroke="#2b2b2b" stroke-width="0.9"/>
<rect x="490" y="544.2" width="21.6" height="167" fill="#e0ecb5" stroke="#2b2b2b" stroke-width="0.9"/>
<rect x="511.6" y="591.9" width="21.6" height="119.3" fill="#a6ce94" stroke="#2b2b2b" stroke-width="0.9"/>
<rect x="533.2" y="625" width="21.6" height="86.2" fill="#58a36a" stroke="#2b2b2b" stroke-width="0.9"/>
<rect x="554.8" y="560.8" width="21.6" height="150.4" fill="#216c40" stroke="#2b2b2b" stroke-width="0.9"/>
<path d="M68.8 665.3V642.9M65.2 642.9H72.4" stroke="#2b2b2b" stroke-width="1" fill="none"/>
<path d="M90.4 699V690.6M86.8 690.6H94" stroke="#2b2b2b" stroke-width="1" fill="none"/>
<path d="M112 675.3V660.4M108.4 660.4H115.6" stroke="#2b2b2b" stroke-width="1" fill="none"/>
<path d="M133.6 647V616.1M130 616.1H137.2" stroke="#2b2b2b" stroke-width="1" fill="none"/>
<path d="M176.6 555.6V504.5M173 504.5H180.2" stroke="#2b2b2b" stroke-width="1" fill="none"/>
<path d="M198.2 640V583.3M194.6 583.3H201.8" stroke="#2b2b2b" stroke-width="1" fill="none"/>
<path d="M219.8 638.4V600.8M216.2 600.8H223.4" stroke="#2b2b2b" stroke-width="1" fill="none"/>
<path d="M241.4 604.2V554.2M237.8 554.2H245" stroke="#2b2b2b" stroke-width="1" fill="none"/>
<path d="M284.8 531.1V478M281.2 478H288.4" stroke="#2b2b2b" stroke-width="1" fill="none"/>
<path d="M306.4 590V515.8M302.8 515.8H310" stroke="#2b2b2b" stroke-width="1" fill="none"/>
<path d="M328 626.4V573M324.4 573H331.6" stroke="#2b2b2b" stroke-width="1" fill="none"/>
<path d="M349.6 570.3V514.4M346 514.4H353.2" stroke="#2b2b2b" stroke-width="1" fill="none"/>
<path d="M392.8 542.2V488.3M389.2 488.3H396.4" stroke="#2b2b2b" stroke-width="1" fill="none"/>
<path d="M414.4 591.7V523.9M410.8 523.9H418" stroke="#2b2b2b" stroke-width="1" fill="none"/>
<path d="M436 635V580.8M432.4 580.8H439.6" stroke="#2b2b2b" stroke-width="1" fill="none"/>
<path d="M457.6 562.2V508.9M454 508.9H461.2" stroke="#2b2b2b" stroke-width="1" fill="none"/>
<path d="M500.8 544.2V494.4M497.2 494.4H504.4" stroke="#2b2b2b" stroke-width="1" fill="none"/>
<path d="M522.4 591.9V524.4M518.8 524.4H526" stroke="#2b2b2b" stroke-width="1" fill="none"/>
<path d="M544 625V568M540.4 568H547.6" stroke="#2b2b2b" stroke-width="1" fill="none"/>
<path d="M565.6 560.8V504.2M562 504.2H569.2" stroke="#2b2b2b" stroke-width="1" fill="none"/>
<circle cx="67.7" cy="637" r="1.65" fill="#eef6b4" stroke="#2b2b2b" stroke-width="0.7"/>
<circle cx="68.6" cy="642.9" r="1.65" fill="#eef6b4" stroke="#2b2b2b" stroke-width="0.7"/>
<circle cx="71.4" cy="647.8" r="1.65" fill="#eef6b4" stroke="#2b2b2b" stroke-width="0.7"/>
<circle cx="67" cy="673.8" r="1.65" fill="#eef6b4" stroke="#2b2b2b" stroke-width="0.7"/>
<circle cx="70.5" cy="681.1" r="1.65" fill="#eef6b4" stroke="#2b2b2b" stroke-width="0.7"/>
<circle cx="68.7" cy="685.8" r="1.65" fill="#eef6b4" stroke="#2b2b2b" stroke-width="0.7"/>
<circle cx="69.6" cy="688.5" r="1.65" fill="#eef6b4" stroke="#2b2b2b" stroke-width="0.7"/>
<circle cx="89.8" cy="683" r="1.65" fill="#a9dc8c" stroke="#2b2b2b" stroke-width="0.7"/>
<circle cx="90.6" cy="690" r="1.65" fill="#a9dc8c" stroke="#2b2b2b" stroke-width="0.7"/>
<circle cx="89.9" cy="695.8" r="1.65" fill="#a9dc8c" stroke="#2b2b2b" stroke-width="0.7"/>
<circle cx="88.4" cy="699" r="1.65" fill="#a9dc8c" stroke="#2b2b2b" stroke-width="0.7"/>
<circle cx="91.7" cy="700.7" r="1.65" fill="#a9dc8c" stroke="#2b2b2b" stroke-width="0.7"/>
<circle cx="89.4" cy="703.4" r="1.65" fill="#a9dc8c" stroke="#2b2b2b" stroke-width="0.7"/>
<circle cx="88.4" cy="705.1" r="1.65" fill="#a9dc8c" stroke="#2b2b2b" stroke-width="0.7"/>
<circle cx="91.3" cy="705.6" r="1.65" fill="#a9dc8c" stroke="#2b2b2b" stroke-width="0.7"/>
<circle cx="114.1" cy="653.6" r="1.65" fill="#4cb063" stroke="#2b2b2b" stroke-width="0.7"/>
<circle cx="111.1" cy="665.9" r="1.65" fill="#4cb063" stroke="#2b2b2b" stroke-width="0.7"/>
<circle cx="114.6" cy="669" r="1.65" fill="#4cb063" stroke="#2b2b2b" stroke-width="0.7"/>
<circle cx="110.8" cy="674.3" r="1.65" fill="#4cb063" stroke="#2b2b2b" stroke-width="0.7"/>
<circle cx="115" cy="673.8" r="1.65" fill="#4cb063" stroke="#2b2b2b" stroke-width="0.7"/>
<circle cx="112.5" cy="693.7" r="1.65" fill="#4cb063" stroke="#2b2b2b" stroke-width="0.7"/>
<circle cx="109.7" cy="695.8" r="1.65" fill="#4cb063" stroke="#2b2b2b" stroke-width="0.7"/>
<circle cx="135.7" cy="604.7" r="1.65" fill="#15793e" stroke="#2b2b2b" stroke-width="0.7"/>
<circle cx="131.1" cy="613.5" r="1.65" fill="#15793e" stroke="#2b2b2b" stroke-width="0.7"/>
<circle cx="133.6" cy="618.9" r="1.65" fill="#15793e" stroke="#2b2b2b" stroke-width="0.7"/>
<circle cx="132.9" cy="633.6" r="1.65" fill="#15793e" stroke="#2b2b2b" stroke-width="0.7"/>
<circle cx="134.1" cy="641.7" r="1.65" fill="#15793e" stroke="#2b2b2b" stroke-width="0.7"/>
<circle cx="133.9" cy="649.9" r="1.65" fill="#15793e" stroke="#2b2b2b" stroke-width="0.7"/>
<circle cx="135" cy="651.9" r="1.65" fill="#15793e" stroke="#2b2b2b" stroke-width="0.7"/>
<circle cx="134.1" cy="671.7" r="1.65" fill="#15793e" stroke="#2b2b2b" stroke-width="0.7"/>
<circle cx="134.8" cy="691.8" r="1.65" fill="#15793e" stroke="#2b2b2b" stroke-width="0.7"/>
<circle cx="135.7" cy="694.1" r="1.65" fill="#15793e" stroke="#2b2b2b" stroke-width="0.7"/>
<circle cx="178.8" cy="491.3" r="1.65" fill="#eef6b4" stroke="#2b2b2b" stroke-width="0.7"/>
<circle cx="175" cy="534.1" r="1.65" fill="#eef6b4" stroke="#2b2b2b" stroke-width="0.7"/>
<circle cx="178.8" cy="537.3" r="1.65" fill="#eef6b4" stroke="#2b2b2b" stroke-width="0.7"/>
<circle cx="179" cy="554" r="1.65" fill="#eef6b4" stroke="#2b2b2b" stroke-width="0.7"/>
<circle cx="176.9" cy="584.9" r="1.65" fill="#eef6b4" stroke="#2b2b2b" stroke-width="0.7"/>
<circle cx="178.8" cy="652.9" r="1.65" fill="#eef6b4" stroke="#2b2b2b" stroke-width="0.7"/>
<circle cx="200.3" cy="544.3" r="1.65" fill="#a9dc8c" stroke="#2b2b2b" stroke-width="0.7"/>
<circle cx="196.8" cy="568" r="1.65" fill="#a9dc8c" stroke="#2b2b2b" stroke-width="0.7"/>
<circle cx="199.7" cy="595.9" r="1.65" fill="#a9dc8c" stroke="#2b2b2b" stroke-width="0.7"/>
<circle cx="197.8" cy="643" r="1.65" fill="#a9dc8c" stroke="#2b2b2b" stroke-width="0.7"/>
<circle cx="199.7" cy="664.2" r="1.65" fill="#a9dc8c" stroke="#2b2b2b" stroke-width="0.7"/>
<circle cx="197.3" cy="678.4" r="1.65" fill="#a9dc8c" stroke="#2b2b2b" stroke-width="0.7"/>
<circle cx="199.5" cy="681.1" r="1.65" fill="#a9dc8c" stroke="#2b2b2b" stroke-width="0.7"/>
<circle cx="196" cy="688.9" r="1.65" fill="#a9dc8c" stroke="#2b2b2b" stroke-width="0.7"/>
<circle cx="197" cy="695.1" r="1.65" fill="#a9dc8c" stroke="#2b2b2b" stroke-width="0.7"/>
<circle cx="219.9" cy="561" r="1.65" fill="#4cb063" stroke="#2b2b2b" stroke-width="0.7"/>
<circle cx="219.6" cy="624.9" r="1.65" fill="#4cb063" stroke="#2b2b2b" stroke-width="0.7"/>
<circle cx="220.4" cy="639.5" r="1.65" fill="#4cb063" stroke="#2b2b2b" stroke-width="0.7"/>
<circle cx="219.9" cy="651.3" r="1.65" fill="#4cb063" stroke="#2b2b2b" stroke-width="0.7"/>
<circle cx="221.5" cy="656.1" r="1.65" fill="#4cb063" stroke="#2b2b2b" stroke-width="0.7"/>
<circle cx="218.8" cy="667.2" r="1.65" fill="#4cb063" stroke="#2b2b2b" stroke-width="0.7"/>
<circle cx="221.8" cy="669" r="1.65" fill="#4cb063" stroke="#2b2b2b" stroke-width="0.7"/>
<circle cx="239.2" cy="518" r="1.65" fill="#15793e" stroke="#2b2b2b" stroke-width="0.7"/>
<circle cx="239.5" cy="553.2" r="1.65" fill="#15793e" stroke="#2b2b2b" stroke-width="0.7"/>
<circle cx="238.7" cy="561.5" r="1.65" fill="#15793e" stroke="#2b2b2b" stroke-width="0.7"/>
<circle cx="243.3" cy="587" r="1.65" fill="#15793e" stroke="#2b2b2b" stroke-width="0.7"/>
<circle cx="240.6" cy="607.7" r="1.65" fill="#15793e" stroke="#2b2b2b" stroke-width="0.7"/>
<circle cx="238.7" cy="609.4" r="1.65" fill="#15793e" stroke="#2b2b2b" stroke-width="0.7"/>
<circle cx="239" cy="637.8" r="1.65" fill="#15793e" stroke="#2b2b2b" stroke-width="0.7"/>
<circle cx="241.4" cy="642.2" r="1.65" fill="#15793e" stroke="#2b2b2b" stroke-width="0.7"/>
<circle cx="240.6" cy="645.4" r="1.65" fill="#15793e" stroke="#2b2b2b" stroke-width="0.7"/>
<circle cx="241.4" cy="683.5" r="1.65" fill="#15793e" stroke="#2b2b2b" stroke-width="0.7"/>
<circle cx="282.4" cy="476.4" r="1.65" fill="#eef6b4" stroke="#2b2b2b" stroke-width="0.7"/>
<circle cx="286.1" cy="486.4" r="1.65" fill="#eef6b4" stroke="#2b2b2b" stroke-width="0.7"/>
<circle cx="284.9" cy="518.9" r="1.65" fill="#eef6b4" stroke="#2b2b2b" stroke-width="0.7"/>
<circle cx="286.1" cy="520.6" r="1.65" fill="#eef6b4" stroke="#2b2b2b" stroke-width="0.7"/>
<circle cx="284.9" cy="560.6" r="1.65" fill="#eef6b4" stroke="#2b2b2b" stroke-width="0.7"/>
<circle cx="285.8" cy="635.8" r="1.65" fill="#eef6b4" stroke="#2b2b2b" stroke-width="0.7"/>
<circle cx="304.1" cy="502.8" r="1.65" fill="#a9dc8c" stroke="#2b2b2b" stroke-width="0.7"/>
<circle cx="304.1" cy="508.6" r="1.65" fill="#a9dc8c" stroke="#2b2b2b" stroke-width="0.7"/>
<circle cx="304.4" cy="515.6" r="1.65" fill="#a9dc8c" stroke="#2b2b2b" stroke-width="0.7"/>
<circle cx="306.1" cy="541.4" r="1.65" fill="#a9dc8c" stroke="#2b2b2b" stroke-width="0.7"/>
<circle cx="306.9" cy="595.6" r="1.65" fill="#a9dc8c" stroke="#2b2b2b" stroke-width="0.7"/>
<circle cx="308.6" cy="636.9" r="1.65" fill="#a9dc8c" stroke="#2b2b2b" stroke-width="0.7"/>
<circle cx="306.9" cy="652.8" r="1.65" fill="#a9dc8c" stroke="#2b2b2b" stroke-width="0.7"/>
<circle cx="304.1" cy="668.9" r="1.65" fill="#a9dc8c" stroke="#2b2b2b" stroke-width="0.7"/>
<circle cx="305.8" cy="686.7" r="1.65" fill="#a9dc8c" stroke="#2b2b2b" stroke-width="0.7"/>
<circle cx="329.9" cy="547.8" r="1.65" fill="#4cb063" stroke="#2b2b2b" stroke-width="0.7"/>
<circle cx="327.7" cy="553.1" r="1.65" fill="#4cb063" stroke="#2b2b2b" stroke-width="0.7"/>
<circle cx="327.2" cy="633.3" r="1.65" fill="#4cb063" stroke="#2b2b2b" stroke-width="0.7"/>
<circle cx="325.8" cy="653.6" r="1.65" fill="#4cb063" stroke="#2b2b2b" stroke-width="0.7"/>
<circle cx="326.3" cy="656.9" r="1.65" fill="#4cb063" stroke="#2b2b2b" stroke-width="0.7"/>
<circle cx="327.2" cy="666.1" r="1.65" fill="#4cb063" stroke="#2b2b2b" stroke-width="0.7"/>
<circle cx="328.6" cy="674.7" r="1.65" fill="#4cb063" stroke="#2b2b2b" stroke-width="0.7"/>
<circle cx="351.9" cy="500.3" r="1.65" fill="#15793e" stroke="#2b2b2b" stroke-width="0.7"/>
<circle cx="348" cy="510" r="1.65" fill="#15793e" stroke="#2b2b2b" stroke-width="0.7"/>
<circle cx="351.1" cy="541.4" r="1.65" fill="#15793e" stroke="#2b2b2b" stroke-width="0.7"/>
<circle cx="351.6" cy="565.3" r="1.65" fill="#15793e" stroke="#2b2b2b" stroke-width="0.7"/>
<circle cx="347.2" cy="568.1" r="1.65" fill="#15793e" stroke="#2b2b2b" stroke-width="0.7"/>
<circle cx="349.9" cy="578.1" r="1.65" fill="#15793e" stroke="#2b2b2b" stroke-width="0.7"/>
<circle cx="348.3" cy="615" r="1.65" fill="#15793e" stroke="#2b2b2b" stroke-width="0.7"/>
<circle cx="348.3" cy="636.9" r="1.65" fill="#15793e" stroke="#2b2b2b" stroke-width="0.7"/>
<circle cx="348.6" cy="669.4" r="1.65" fill="#15793e" stroke="#2b2b2b" stroke-width="0.7"/>
<circle cx="394.3" cy="480" r="1.65" fill="#eef6b4" stroke="#2b2b2b" stroke-width="0.7"/>
<circle cx="391" cy="499.4" r="1.65" fill="#eef6b4" stroke="#2b2b2b" stroke-width="0.7"/>
<circle cx="393.8" cy="519.2" r="1.65" fill="#eef6b4" stroke="#2b2b2b" stroke-width="0.7"/>
<circle cx="394.3" cy="532.8" r="1.65" fill="#eef6b4" stroke="#2b2b2b" stroke-width="0.7"/>
<circle cx="392.9" cy="545.6" r="1.65" fill="#eef6b4" stroke="#2b2b2b" stroke-width="0.7"/>
<circle cx="390.2" cy="580" r="1.65" fill="#eef6b4" stroke="#2b2b2b" stroke-width="0.7"/>
<circle cx="393.2" cy="640.3" r="1.65" fill="#eef6b4" stroke="#2b2b2b" stroke-width="0.7"/>
<circle cx="413.2" cy="524.2" r="1.65" fill="#a9dc8c" stroke="#2b2b2b" stroke-width="0.7"/>
<circle cx="416.6" cy="524.4" r="1.65" fill="#a9dc8c" stroke="#2b2b2b" stroke-width="0.7"/>
<circle cx="414.9" cy="535.8" r="1.65" fill="#a9dc8c" stroke="#2b2b2b" stroke-width="0.7"/>
<circle cx="412.7" cy="578.6" r="1.65" fill="#a9dc8c" stroke="#2b2b2b" stroke-width="0.7"/>
<circle cx="414.1" cy="620.8" r="1.65" fill="#a9dc8c" stroke="#2b2b2b" stroke-width="0.7"/>
<circle cx="414.6" cy="653.6" r="1.65" fill="#a9dc8c" stroke="#2b2b2b" stroke-width="0.7"/>
<circle cx="415.2" cy="675" r="1.65" fill="#a9dc8c" stroke="#2b2b2b" stroke-width="0.7"/>
<circle cx="412.4" cy="689.7" r="1.65" fill="#a9dc8c" stroke="#2b2b2b" stroke-width="0.7"/>
<circle cx="434.9" cy="545" r="1.65" fill="#4cb063" stroke="#2b2b2b" stroke-width="0.7"/>
<circle cx="436" cy="578.6" r="1.65" fill="#4cb063" stroke="#2b2b2b" stroke-width="0.7"/>
<circle cx="434.6" cy="633.6" r="1.65" fill="#4cb063" stroke="#2b2b2b" stroke-width="0.7"/>
<circle cx="437.9" cy="651.9" r="1.65" fill="#4cb063" stroke="#2b2b2b" stroke-width="0.7"/>
<circle cx="433.8" cy="678.9" r="1.65" fill="#4cb063" stroke="#2b2b2b" stroke-width="0.7"/>
<circle cx="436.3" cy="679.2" r="1.65" fill="#4cb063" stroke="#2b2b2b" stroke-width="0.7"/>
<circle cx="458.5" cy="499.4" r="1.65" fill="#15793e" stroke="#2b2b2b" stroke-width="0.7"/>
<circle cx="457.1" cy="508.1" r="1.65" fill="#15793e" stroke="#2b2b2b" stroke-width="0.7"/>
<circle cx="459.3" cy="521.1" r="1.65" fill="#15793e" stroke="#2b2b2b" stroke-width="0.7"/>
<circle cx="459.3" cy="526.7" r="1.65" fill="#15793e" stroke="#2b2b2b" stroke-width="0.7"/>
<circle cx="458.8" cy="550.3" r="1.65" fill="#15793e" stroke="#2b2b2b" stroke-width="0.7"/>
<circle cx="459.9" cy="550.8" r="1.65" fill="#15793e" stroke="#2b2b2b" stroke-width="0.7"/>
<circle cx="459.3" cy="574.4" r="1.65" fill="#15793e" stroke="#2b2b2b" stroke-width="0.7"/>
<circle cx="455.2" cy="609.4" r="1.65" fill="#15793e" stroke="#2b2b2b" stroke-width="0.7"/>
<circle cx="456.8" cy="626.7" r="1.65" fill="#15793e" stroke="#2b2b2b" stroke-width="0.7"/>
<circle cx="459.1" cy="658.9" r="1.65" fill="#15793e" stroke="#2b2b2b" stroke-width="0.7"/>
<circle cx="498.7" cy="498.3" r="1.65" fill="#eef6b4" stroke="#2b2b2b" stroke-width="0.7"/>
<circle cx="500.9" cy="497.8" r="1.65" fill="#eef6b4" stroke="#2b2b2b" stroke-width="0.7"/>
<circle cx="499" cy="514.7" r="1.65" fill="#eef6b4" stroke="#2b2b2b" stroke-width="0.7"/>
<circle cx="500.1" cy="535.6" r="1.65" fill="#eef6b4" stroke="#2b2b2b" stroke-width="0.7"/>
<circle cx="498.2" cy="546.1" r="1.65" fill="#eef6b4" stroke="#2b2b2b" stroke-width="0.7"/>
<circle cx="498.4" cy="580.8" r="1.65" fill="#eef6b4" stroke="#2b2b2b" stroke-width="0.7"/>
<circle cx="502.1" cy="636.7" r="1.65" fill="#eef6b4" stroke="#2b2b2b" stroke-width="0.7"/>
<circle cx="524.8" cy="522.2" r="1.65" fill="#a9dc8c" stroke="#2b2b2b" stroke-width="0.7"/>
<circle cx="519.6" cy="527.8" r="1.65" fill="#a9dc8c" stroke="#2b2b2b" stroke-width="0.7"/>
<circle cx="520.9" cy="534.7" r="1.65" fill="#a9dc8c" stroke="#2b2b2b" stroke-width="0.7"/>
<circle cx="523.4" cy="537.2" r="1.65" fill="#a9dc8c" stroke="#2b2b2b" stroke-width="0.7"/>
<circle cx="521.8" cy="574.7" r="1.65" fill="#a9dc8c" stroke="#2b2b2b" stroke-width="0.7"/>
<circle cx="523.2" cy="609.7" r="1.65" fill="#a9dc8c" stroke="#2b2b2b" stroke-width="0.7"/>
<circle cx="520.7" cy="654.7" r="1.65" fill="#a9dc8c" stroke="#2b2b2b" stroke-width="0.7"/>
<circle cx="523.7" cy="677.2" r="1.65" fill="#a9dc8c" stroke="#2b2b2b" stroke-width="0.7"/>
<circle cx="519.6" cy="688.6" r="1.65" fill="#a9dc8c" stroke="#2b2b2b" stroke-width="0.7"/>
<circle cx="543.7" cy="566.1" r="1.65" fill="#4cb063" stroke="#2b2b2b" stroke-width="0.7"/>
<circle cx="541.8" cy="630.3" r="1.65" fill="#4cb063" stroke="#2b2b2b" stroke-width="0.7"/>
<circle cx="542.9" cy="678.6" r="1.65" fill="#4cb063" stroke="#2b2b2b" stroke-width="0.7"/>
<circle cx="567.9" cy="490" r="1.65" fill="#15793e" stroke="#2b2b2b" stroke-width="0.7"/>
<circle cx="566.8" cy="511.7" r="1.65" fill="#15793e" stroke="#2b2b2b" stroke-width="0.7"/>
<circle cx="562.6" cy="520" r="1.65" fill="#15793e" stroke="#2b2b2b" stroke-width="0.7"/>
<circle cx="565.9" cy="525" r="1.65" fill="#15793e" stroke="#2b2b2b" stroke-width="0.7"/>
<circle cx="565.9" cy="545" r="1.65" fill="#15793e" stroke="#2b2b2b" stroke-width="0.7"/>
<circle cx="564" cy="548.6" r="1.65" fill="#15793e" stroke="#2b2b2b" stroke-width="0.7"/>
<circle cx="567.1" cy="568.6" r="1.65" fill="#15793e" stroke="#2b2b2b" stroke-width="0.7"/>
<circle cx="565.7" cy="605.6" r="1.65" fill="#15793e" stroke="#2b2b2b" stroke-width="0.7"/>
<circle cx="563.2" cy="627.5" r="1.65" fill="#15793e" stroke="#2b2b2b" stroke-width="0.7"/>
<circle cx="563.4" cy="670" r="1.65" fill="#15793e" stroke="#2b2b2b" stroke-width="0.7"/>
<path d="M68.9 621.5V606.1H91V633.3" stroke="#707070" stroke-width="1" fill="none"/>
<text x="80" y="602.2" font-size="11" text-anchor="middle" fill="#000">*</text>
<path d="M176.3 475V459.1H220.4V486.5" stroke="#707070" stroke-width="1" fill="none"/>
<text x="198.4" y="455.4" font-size="11" text-anchor="middle" fill="#000">*</text>
<path d="M284.4 460.6V444.4H328.3V472.2" stroke="#707070" stroke-width="1" fill="none"/>
<text x="306.6" y="441.3" font-size="11" text-anchor="middle" fill="#000">*</text>
<path d="M392.4 458.9V443H436.3V471.1" stroke="#707070" stroke-width="1" fill="none"/>
<text x="414.9" y="439.1" font-size="11" text-anchor="middle" fill="#000">*</text>
<path d="M47.3 464V711.2H587" stroke="#333333" stroke-width="1.1" fill="none"/>
<path d="M42.3 711.1H47.3" stroke="#333333" stroke-width="1.1"/>
<text x="39.6" y="715.6" font-size="11" text-anchor="end">0.0</text>
<path d="M42.3 660.2H47.3" stroke="#333333" stroke-width="1.1"/>
<text x="39.6" y="664.7" font-size="11" text-anchor="end">0.5</text>
<path d="M42.3 609.4H47.3" stroke="#333333" stroke-width="1.1"/>
<text x="39.6" y="613.9" font-size="11" text-anchor="end">1.0</text>
<path d="M42.3 558.3H47.3" stroke="#333333" stroke-width="1.1"/>
<text x="39.6" y="562.8" font-size="11" text-anchor="end">1.5</text>
<path d="M42.3 507.2H47.3" stroke="#333333" stroke-width="1.1"/>
<text x="39.6" y="511.7" font-size="11" text-anchor="end">2.0</text>
<path d="M101.2 711.2V716.2" stroke="#333333" stroke-width="1.1"/>
<text x="101.2" y="727.6" font-size="11" text-anchor="middle">15</text>
<path d="M209 711.2V716.2" stroke="#333333" stroke-width="1.1"/>
<text x="209" y="727.6" font-size="11" text-anchor="middle">25</text>
<path d="M317.2 711.2V716.2" stroke="#333333" stroke-width="1.1"/>
<text x="317.2" y="727.6" font-size="11" text-anchor="middle">35</text>
<path d="M425.2 711.2V716.2" stroke="#333333" stroke-width="1.1"/>
<text x="425.2" y="727.6" font-size="11" text-anchor="middle">45</text>
<path d="M533.2 711.2V716.2" stroke="#333333" stroke-width="1.1"/>
<text x="533.2" y="727.6" font-size="11" text-anchor="middle">50</text>
<text x="317.2" y="423.6" font-size="19.5" text-anchor="middle" textLength="117" lengthAdjust="spacingAndGlyphs">Bone Volume</text>
<text transform="translate(17.1 601.1) rotate(-90)" font-size="12.5">mm<tspan dy="-10.1" dx="0.3" font-size="9.2">3</tspan></text>
<rect x="56" y="850.4" width="21.7" height="188.1" fill="#e0ecb5" stroke="#2b2b2b" stroke-width="0.9"/>
<rect x="77.7" y="865.4" width="21.7" height="173.1" fill="#a6ce94" stroke="#2b2b2b" stroke-width="0.9"/>
<rect x="99.4" y="862.9" width="21.7" height="175.6" fill="#58a36a" stroke="#2b2b2b" stroke-width="0.9"/>
<rect x="121.1" y="835.2" width="21.7" height="203.3" fill="#216c40" stroke="#2b2b2b" stroke-width="0.9"/>
<rect x="164.3" y="860.1" width="21.7" height="178.4" fill="#e0ecb5" stroke="#2b2b2b" stroke-width="0.9"/>
<rect x="186" y="878.4" width="21.7" height="160.1" fill="#a6ce94" stroke="#2b2b2b" stroke-width="0.9"/>
<rect x="207.7" y="872.3" width="21.7" height="166.2" fill="#58a36a" stroke="#2b2b2b" stroke-width="0.9"/>
<rect x="229.4" y="847.4" width="21.7" height="191.1" fill="#216c40" stroke="#2b2b2b" stroke-width="0.9"/>
<rect x="272.8" y="869.2" width="21.7" height="169.3" fill="#e0ecb5" stroke="#2b2b2b" stroke-width="0.9"/>
<rect x="294.5" y="899.7" width="21.7" height="138.8" fill="#a6ce94" stroke="#2b2b2b" stroke-width="0.9"/>
<rect x="316.2" y="884.2" width="21.7" height="154.3" fill="#58a36a" stroke="#2b2b2b" stroke-width="0.9"/>
<rect x="337.9" y="860.9" width="21.7" height="177.6" fill="#216c40" stroke="#2b2b2b" stroke-width="0.9"/>
<rect x="381.2" y="882.3" width="21.7" height="156.2" fill="#e0ecb5" stroke="#2b2b2b" stroke-width="0.9"/>
<rect x="402.9" y="906.9" width="21.7" height="131.6" fill="#a6ce94" stroke="#2b2b2b" stroke-width="0.9"/>
<rect x="424.6" y="887.8" width="21.7" height="150.7" fill="#58a36a" stroke="#2b2b2b" stroke-width="0.9"/>
<rect x="446.3" y="869.2" width="21.7" height="169.3" fill="#216c40" stroke="#2b2b2b" stroke-width="0.9"/>
<rect x="489.8" y="888.1" width="21.7" height="150.4" fill="#e0ecb5" stroke="#2b2b2b" stroke-width="0.9"/>
<rect x="511.5" y="913" width="21.7" height="125.5" fill="#a6ce94" stroke="#2b2b2b" stroke-width="0.9"/>
<rect x="533.2" y="893.1" width="21.7" height="145.4" fill="#58a36a" stroke="#2b2b2b" stroke-width="0.9"/>
<rect x="554.9" y="875.1" width="21.7" height="163.4" fill="#216c40" stroke="#2b2b2b" stroke-width="0.9"/>
<path d="M66.85 850.4V832.4M63.25 832.4H70.45" stroke="#2b2b2b" stroke-width="1" fill="none"/>
<path d="M88.55 865.4V849.6M84.95 849.6H92.15" stroke="#2b2b2b" stroke-width="1" fill="none"/>
<path d="M110.25 862.9V850.7M106.65 850.7H113.85" stroke="#2b2b2b" stroke-width="1" fill="none"/>
<path d="M131.95 835.2V812.4M128.35 812.4H135.55" stroke="#2b2b2b" stroke-width="1" fill="none"/>
<path d="M175.15 860.1V842.1M171.55 842.1H178.75" stroke="#2b2b2b" stroke-width="1" fill="none"/>
<path d="M196.85 878.4V864.5M193.25 864.5H200.45" stroke="#2b2b2b" stroke-width="1" fill="none"/>
<path d="M218.55 872.3V853.7M214.95 853.7H222.15" stroke="#2b2b2b" stroke-width="1" fill="none"/>
<path d="M240.25 847.4V828.5M236.65 828.5H243.85" stroke="#2b2b2b" stroke-width="1" fill="none"/>
<path d="M283.65 869.2V849.3M280.05 849.3H287.25" stroke="#2b2b2b" stroke-width="1" fill="none"/>
<path d="M305.35 899.7V881.7M301.75 881.7H308.95" stroke="#2b2b2b" stroke-width="1" fill="none"/>
<path d="M327.05 884.2V869.2M323.45 869.2H330.65" stroke="#2b2b2b" stroke-width="1" fill="none"/>
<path d="M348.75 860.9V839M345.15 839H352.35" stroke="#2b2b2b" stroke-width="1" fill="none"/>
<path d="M392.05 882.3V855.4M388.45 855.4H395.65" stroke="#2b2b2b" stroke-width="1" fill="none"/>
<path d="M413.75 906.9V887M410.15 887H417.35" stroke="#2b2b2b" stroke-width="1" fill="none"/>
<path d="M435.45 887.8V870.9M431.85 870.9H439.05" stroke="#2b2b2b" stroke-width="1" fill="none"/>
<path d="M457.15 869.2V847.4M453.55 847.4H460.75" stroke="#2b2b2b" stroke-width="1" fill="none"/>
<path d="M500.65 888.1V860.4M497.05 860.4H504.25" stroke="#2b2b2b" stroke-width="1" fill="none"/>
<path d="M522.35 913V890.9M518.75 890.9H525.95" stroke="#2b2b2b" stroke-width="1" fill="none"/>
<path d="M544.05 893.1V880.6M540.45 880.6H547.65" stroke="#2b2b2b" stroke-width="1" fill="none"/>
<path d="M565.75 875.1V858.4M562.15 858.4H569.35" stroke="#2b2b2b" stroke-width="1" fill="none"/>
<circle cx="66" cy="823.8" r="1.65" fill="#eef6b4" stroke="#2b2b2b" stroke-width="0.7"/>
<circle cx="67.4" cy="834.6" r="1.65" fill="#eef6b4" stroke="#2b2b2b" stroke-width="0.7"/>
<circle cx="66" cy="843.8" r="1.65" fill="#eef6b4" stroke="#2b2b2b" stroke-width="0.7"/>
<circle cx="64.1" cy="851" r="1.65" fill="#eef6b4" stroke="#2b2b2b" stroke-width="0.7"/>
<circle cx="66" cy="861" r="1.65" fill="#eef6b4" stroke="#2b2b2b" stroke-width="0.7"/>
<circle cx="64.6" cy="862.9" r="1.65" fill="#eef6b4" stroke="#2b2b2b" stroke-width="0.7"/>
<circle cx="64.9" cy="876" r="1.65" fill="#eef6b4" stroke="#2b2b2b" stroke-width="0.7"/>
<circle cx="88.2" cy="833" r="1.65" fill="#a9dc8c" stroke="#2b2b2b" stroke-width="0.7"/>
<circle cx="89.9" cy="851" r="1.65" fill="#a9dc8c" stroke="#2b2b2b" stroke-width="0.7"/>
<circle cx="87.4" cy="859.3" r="1.65" fill="#a9dc8c" stroke="#2b2b2b" stroke-width="0.7"/>
<circle cx="85.7" cy="866" r="1.65" fill="#a9dc8c" stroke="#2b2b2b" stroke-width="0.7"/>
<circle cx="90.4" cy="868.7" r="1.65" fill="#a9dc8c" stroke="#2b2b2b" stroke-width="0.7"/>
<circle cx="88.7" cy="872.9" r="1.65" fill="#a9dc8c" stroke="#2b2b2b" stroke-width="0.7"/>
<circle cx="86.8" cy="879.8" r="1.65" fill="#a9dc8c" stroke="#2b2b2b" stroke-width="0.7"/>
<circle cx="89" cy="879.8" r="1.65" fill="#a9dc8c" stroke="#2b2b2b" stroke-width="0.7"/>
<circle cx="112.6" cy="839.1" r="1.65" fill="#4cb063" stroke="#2b2b2b" stroke-width="0.7"/>
<circle cx="108.4" cy="856" r="1.65" fill="#4cb063" stroke="#2b2b2b" stroke-width="0.7"/>
<circle cx="109.8" cy="863.2" r="1.65" fill="#4cb063" stroke="#2b2b2b" stroke-width="0.7"/>
<circle cx="110.4" cy="866.8" r="1.65" fill="#4cb063" stroke="#2b2b2b" stroke-width="0.7"/>
<circle cx="109.3" cy="871.5" r="1.65" fill="#4cb063" stroke="#2b2b2b" stroke-width="0.7"/>
<circle cx="111.2" cy="876.5" r="1.65" fill="#4cb063" stroke="#2b2b2b" stroke-width="0.7"/>
<circle cx="129.8" cy="803.3" r="1.65" fill="#15793e" stroke="#2b2b2b" stroke-width="0.7"/>
<circle cx="130.9" cy="805.2" r="1.65" fill="#15793e" stroke="#2b2b2b" stroke-width="0.7"/>
<circle cx="130.1" cy="809.7" r="1.65" fill="#15793e" stroke="#2b2b2b" stroke-width="0.7"/>
<circle cx="129.2" cy="831.9" r="1.65" fill="#15793e" stroke="#2b2b2b" stroke-width="0.7"/>
<circle cx="132.3" cy="831" r="1.65" fill="#15793e" stroke="#2b2b2b" stroke-width="0.7"/>
<circle cx="134.8" cy="844.6" r="1.65" fill="#15793e" stroke="#2b2b2b" stroke-width="0.7"/>
<circle cx="132" cy="845.4" r="1.65" fill="#15793e" stroke="#2b2b2b" stroke-width="0.7"/>
<circle cx="130.9" cy="852.1" r="1.65" fill="#15793e" stroke="#2b2b2b" stroke-width="0.7"/>
<circle cx="130.9" cy="862.9" r="1.65" fill="#15793e" stroke="#2b2b2b" stroke-width="0.7"/>
<circle cx="133.9" cy="867.1" r="1.65" fill="#15793e" stroke="#2b2b2b" stroke-width="0.7"/>
<circle cx="176.6" cy="838.5" r="1.65" fill="#eef6b4" stroke="#2b2b2b" stroke-width="0.7"/>
<circle cx="177.4" cy="845.7" r="1.65" fill="#eef6b4" stroke="#2b2b2b" stroke-width="0.7"/>
<circle cx="174.1" cy="849.6" r="1.65" fill="#eef6b4" stroke="#2b2b2b" stroke-width="0.7"/>
<circle cx="176.9" cy="855.1" r="1.65" fill="#eef6b4" stroke="#2b2b2b" stroke-width="0.7"/>
<circle cx="174.7" cy="865.4" r="1.65" fill="#eef6b4" stroke="#2b2b2b" stroke-width="0.7"/>
<circle cx="174.1" cy="880.3" r="1.65" fill="#eef6b4" stroke="#2b2b2b" stroke-width="0.7"/>
<circle cx="174.9" cy="887" r="1.65" fill="#eef6b4" stroke="#2b2b2b" stroke-width="0.7"/>
<circle cx="196.3" cy="857.3" r="1.65" fill="#a9dc8c" stroke="#2b2b2b" stroke-width="0.7"/>
<circle cx="197.9" cy="862" r="1.65" fill="#a9dc8c" stroke="#2b2b2b" stroke-width="0.7"/>
<circle cx="197.1" cy="870.6" r="1.65" fill="#a9dc8c" stroke="#2b2b2b" stroke-width="0.7"/>
<circle cx="198.8" cy="876.2" r="1.65" fill="#a9dc8c" stroke="#2b2b2b" stroke-width="0.7"/>
<circle cx="196.8" cy="878.1" r="1.65" fill="#a9dc8c" stroke="#2b2b2b" stroke-width="0.7"/>
<circle cx="199.6" cy="886.2" r="1.65" fill="#a9dc8c" stroke="#2b2b2b" stroke-width="0.7"/>
<circle cx="198.2" cy="887" r="1.65" fill="#a9dc8c" stroke="#2b2b2b" stroke-width="0.7"/>
<circle cx="195.5" cy="891.4" r="1.65" fill="#a9dc8c" stroke="#2b2b2b" stroke-width="0.7"/>
<circle cx="197.9" cy="900" r="1.65" fill="#a9dc8c" stroke="#2b2b2b" stroke-width="0.7"/>
<circle cx="216.8" cy="832.9" r="1.65" fill="#4cb063" stroke="#2b2b2b" stroke-width="0.7"/>
<circle cx="219.8" cy="864.8" r="1.65" fill="#4cb063" stroke="#2b2b2b" stroke-width="0.7"/>
<circle cx="216.8" cy="876.7" r="1.65" fill="#4cb063" stroke="#2b2b2b" stroke-width="0.7"/>
<circle cx="216.5" cy="879.8" r="1.65" fill="#4cb063" stroke="#2b2b2b" stroke-width="0.7"/>
<circle cx="221" cy="882.6" r="1.65" fill="#4cb063" stroke="#2b2b2b" stroke-width="0.7"/>
<circle cx="219.8" cy="885.3" r="1.65" fill="#4cb063" stroke="#2b2b2b" stroke-width="0.7"/>
<circle cx="221" cy="887.8" r="1.65" fill="#4cb063" stroke="#2b2b2b" stroke-width="0.7"/>
<circle cx="238.1" cy="805.5" r="1.65" fill="#15793e" stroke="#2b2b2b" stroke-width="0.7"/>
<circle cx="241.7" cy="835.4" r="1.65" fill="#15793e" stroke="#2b2b2b" stroke-width="0.7"/>
<circle cx="240.4" cy="838.2" r="1.65" fill="#15793e" stroke="#2b2b2b" stroke-width="0.7"/>
<circle cx="239.8" cy="840.1" r="1.65" fill="#15793e" stroke="#2b2b2b" stroke-width="0.7"/>
<circle cx="240.4" cy="849.6" r="1.65" fill="#15793e" stroke="#2b2b2b" stroke-width="0.7"/>
<circle cx="241.7" cy="859.8" r="1.65" fill="#15793e" stroke="#2b2b2b" stroke-width="0.7"/>
<circle cx="237.9" cy="861.5" r="1.65" fill="#15793e" stroke="#2b2b2b" stroke-width="0.7"/>
<circle cx="242.8" cy="867.3" r="1.65" fill="#15793e" stroke="#2b2b2b" stroke-width="0.7"/>
<circle cx="239.8" cy="870.6" r="1.65" fill="#15793e" stroke="#2b2b2b" stroke-width="0.7"/>
<circle cx="285.4" cy="838.5" r="1.65" fill="#eef6b4" stroke="#2b2b2b" stroke-width="0.7"/>
<circle cx="282.1" cy="852.3" r="1.65" fill="#eef6b4" stroke="#2b2b2b" stroke-width="0.7"/>
<circle cx="282.1" cy="863.7" r="1.65" fill="#eef6b4" stroke="#2b2b2b" stroke-width="0.7"/>
<circle cx="282.1" cy="871.7" r="1.65" fill="#eef6b4" stroke="#2b2b2b" stroke-width="0.7"/>
<circle cx="286" cy="877.6" r="1.65" fill="#eef6b4" stroke="#2b2b2b" stroke-width="0.7"/>
<circle cx="283.2" cy="886.2" r="1.65" fill="#eef6b4" stroke="#2b2b2b" stroke-width="0.7"/>
<circle cx="283.2" cy="898.9" r="1.65" fill="#eef6b4" stroke="#2b2b2b" stroke-width="0.7"/>
<circle cx="305.7" cy="876.2" r="1.65" fill="#a9dc8c" stroke="#2b2b2b" stroke-width="0.7"/>
<circle cx="303.2" cy="884.8" r="1.65" fill="#a9dc8c" stroke="#2b2b2b" stroke-width="0.7"/>
<circle cx="307.1" cy="883.1" r="1.65" fill="#a9dc8c" stroke="#2b2b2b" stroke-width="0.7"/>
<circle cx="305.7" cy="887.8" r="1.65" fill="#a9dc8c" stroke="#2b2b2b" stroke-width="0.7"/>
<circle cx="303.2" cy="903.9" r="1.65" fill="#a9dc8c" stroke="#2b2b2b" stroke-width="0.7"/>
<circle cx="304.6" cy="908.6" r="1.65" fill="#a9dc8c" stroke="#2b2b2b" stroke-width="0.7"/>
<circle cx="304" cy="917.2" r="1.65" fill="#a9dc8c" stroke="#2b2b2b" stroke-width="0.7"/>
<circle cx="305.9" cy="934.4" r="1.65" fill="#a9dc8c" stroke="#2b2b2b" stroke-width="0.7"/>
<circle cx="329.5" cy="855.1" r="1.65" fill="#4cb063" stroke="#2b2b2b" stroke-width="0.7"/>
<circle cx="329" cy="877.3" r="1.65" fill="#4cb063" stroke="#2b2b2b" stroke-width="0.7"/>
<circle cx="329" cy="881.2" r="1.65" fill="#4cb063" stroke="#2b2b2b" stroke-width="0.7"/>
<circle cx="324.5" cy="892" r="1.65" fill="#4cb063" stroke="#2b2b2b" stroke-width="0.7"/>
<circle cx="325.6" cy="893.4" r="1.65" fill="#4cb063" stroke="#2b2b2b" stroke-width="0.7"/>
<circle cx="326.7" cy="895" r="1.65" fill="#4cb063" stroke="#2b2b2b" stroke-width="0.7"/>
<circle cx="327.8" cy="896.4" r="1.65" fill="#4cb063" stroke="#2b2b2b" stroke-width="0.7"/>
<circle cx="347.5" cy="811.3" r="1.65" fill="#15793e" stroke="#2b2b2b" stroke-width="0.7"/>
<circle cx="350" cy="844.3" r="1.65" fill="#15793e" stroke="#2b2b2b" stroke-width="0.7"/>
<circle cx="350.8" cy="854.3" r="1.65" fill="#15793e" stroke="#2b2b2b" stroke-width="0.7"/>
<circle cx="351.4" cy="855.9" r="1.65" fill="#15793e" stroke="#2b2b2b" stroke-width="0.7"/>
<circle cx="348.1" cy="862" r="1.65" fill="#15793e" stroke="#2b2b2b" stroke-width="0.7"/>
<circle cx="346.7" cy="867" r="1.65" fill="#15793e" stroke="#2b2b2b" stroke-width="0.7"/>
<circle cx="346.1" cy="871.7" r="1.65" fill="#15793e" stroke="#2b2b2b" stroke-width="0.7"/>
<circle cx="348.1" cy="876.2" r="1.65" fill="#15793e" stroke="#2b2b2b" stroke-width="0.7"/>
<circle cx="346.7" cy="884.8" r="1.65" fill="#15793e" stroke="#2b2b2b" stroke-width="0.7"/>
<circle cx="351.4" cy="884.2" r="1.65" fill="#15793e" stroke="#2b2b2b" stroke-width="0.7"/>
<circle cx="391.5" cy="835.7" r="1.65" fill="#eef6b4" stroke="#2b2b2b" stroke-width="0.7"/>
<circle cx="389.8" cy="872" r="1.65" fill="#eef6b4" stroke="#2b2b2b" stroke-width="0.7"/>
<circle cx="394.5" cy="877.6" r="1.65" fill="#eef6b4" stroke="#2b2b2b" stroke-width="0.7"/>
<circle cx="389.8" cy="884.5" r="1.65" fill="#eef6b4" stroke="#2b2b2b" stroke-width="0.7"/>
<circle cx="392.9" cy="887" r="1.65" fill="#eef6b4" stroke="#2b2b2b" stroke-width="0.7"/>
<circle cx="392.3" cy="895.6" r="1.65" fill="#eef6b4" stroke="#2b2b2b" stroke-width="0.7"/>
<circle cx="391.5" cy="926.3" r="1.65" fill="#eef6b4" stroke="#2b2b2b" stroke-width="0.7"/>
<circle cx="416.2" cy="874" r="1.65" fill="#a9dc8c" stroke="#2b2b2b" stroke-width="0.7"/>
<circle cx="412.8" cy="893.4" r="1.65" fill="#a9dc8c" stroke="#2b2b2b" stroke-width="0.7"/>
<circle cx="413.1" cy="895.9" r="1.65" fill="#a9dc8c" stroke="#2b2b2b" stroke-width="0.7"/>
<circle cx="412.3" cy="908" r="1.65" fill="#a9dc8c" stroke="#2b2b2b" stroke-width="0.7"/>
<circle cx="413.1" cy="914.1" r="1.65" fill="#a9dc8c" stroke="#2b2b2b" stroke-width="0.7"/>
<circle cx="415.1" cy="933.3" r="1.65" fill="#a9dc8c" stroke="#2b2b2b" stroke-width="0.7"/>
<circle cx="411.5" cy="937.2" r="1.65" fill="#a9dc8c" stroke="#2b2b2b" stroke-width="0.7"/>
<circle cx="437" cy="852.9" r="1.65" fill="#4cb063" stroke="#2b2b2b" stroke-width="0.7"/>
<circle cx="433.1" cy="880.9" r="1.65" fill="#4cb063" stroke="#2b2b2b" stroke-width="0.7"/>
<circle cx="434.2" cy="891.7" r="1.65" fill="#4cb063" stroke="#2b2b2b" stroke-width="0.7"/>
<circle cx="436.4" cy="891.7" r="1.65" fill="#4cb063" stroke="#2b2b2b" stroke-width="0.7"/>
<circle cx="433.9" cy="900.6" r="1.65" fill="#4cb063" stroke="#2b2b2b" stroke-width="0.7"/>
<circle cx="437.5" cy="899.7" r="1.65" fill="#4cb063" stroke="#2b2b2b" stroke-width="0.7"/>
<circle cx="438.6" cy="898.6" r="1.65" fill="#4cb063" stroke="#2b2b2b" stroke-width="0.7"/>
<circle cx="455" cy="831" r="1.65" fill="#15793e" stroke="#2b2b2b" stroke-width="0.7"/>
<circle cx="455.8" cy="838.2" r="1.65" fill="#15793e" stroke="#2b2b2b" stroke-width="0.7"/>
<circle cx="454.7" cy="860.7" r="1.65" fill="#15793e" stroke="#2b2b2b" stroke-width="0.7"/>
<circle cx="459.1" cy="862" r="1.65" fill="#15793e" stroke="#2b2b2b" stroke-width="0.7"/>
<circle cx="456.4" cy="871.2" r="1.65" fill="#15793e" stroke="#2b2b2b" stroke-width="0.7"/>
<circle cx="457.5" cy="872.9" r="1.65" fill="#15793e" stroke="#2b2b2b" stroke-width="0.7"/>
<circle cx="456.4" cy="884.2" r="1.65" fill="#15793e" stroke="#2b2b2b" stroke-width="0.7"/>
<circle cx="456.1" cy="891.1" r="1.65" fill="#15793e" stroke="#2b2b2b" stroke-width="0.7"/>
<circle cx="459.1" cy="891.1" r="1.65" fill="#15793e" stroke="#2b2b2b" stroke-width="0.7"/>
<circle cx="457.7" cy="895.6" r="1.65" fill="#15793e" stroke="#2b2b2b" stroke-width="0.7"/>
<circle cx="502" cy="831.8" r="1.65" fill="#eef6b4" stroke="#2b2b2b" stroke-width="0.7"/>
<circle cx="502.8" cy="886.2" r="1.65" fill="#eef6b4" stroke="#2b2b2b" stroke-width="0.7"/>
<circle cx="501.7" cy="893.6" r="1.65" fill="#eef6b4" stroke="#2b2b2b" stroke-width="0.7"/>
<circle cx="497.8" cy="896.1" r="1.65" fill="#eef6b4" stroke="#2b2b2b" stroke-width="0.7"/>
<circle cx="498.9" cy="899.2" r="1.65" fill="#eef6b4" stroke="#2b2b2b" stroke-width="0.7"/>
<circle cx="503.1" cy="926.1" r="1.65" fill="#eef6b4" stroke="#2b2b2b" stroke-width="0.7"/>
<circle cx="522.2" cy="876.7" r="1.65" fill="#a9dc8c" stroke="#2b2b2b" stroke-width="0.7"/>
<circle cx="523.1" cy="898.1" r="1.65" fill="#a9dc8c" stroke="#2b2b2b" stroke-width="0.7"/>
<circle cx="521.4" cy="901.1" r="1.65" fill="#a9dc8c" stroke="#2b2b2b" stroke-width="0.7"/>
<circle cx="522.8" cy="908" r="1.65" fill="#a9dc8c" stroke="#2b2b2b" stroke-width="0.7"/>
<circle cx="524.4" cy="916.9" r="1.65" fill="#a9dc8c" stroke="#2b2b2b" stroke-width="0.7"/>
<circle cx="523.1" cy="919.7" r="1.65" fill="#a9dc8c" stroke="#2b2b2b" stroke-width="0.7"/>
<circle cx="523.9" cy="938" r="1.65" fill="#a9dc8c" stroke="#2b2b2b" stroke-width="0.7"/>
<circle cx="523.1" cy="951.3" r="1.65" fill="#a9dc8c" stroke="#2b2b2b" stroke-width="0.7"/>
<circle cx="543.8" cy="880.3" r="1.65" fill="#4cb063" stroke="#2b2b2b" stroke-width="0.7"/>
<circle cx="545.8" cy="894.7" r="1.65" fill="#4cb063" stroke="#2b2b2b" stroke-width="0.7"/>
<circle cx="543" cy="905.3" r="1.65" fill="#4cb063" stroke="#2b2b2b" stroke-width="0.7"/>
<circle cx="567.4" cy="845.7" r="1.65" fill="#15793e" stroke="#2b2b2b" stroke-width="0.7"/>
<circle cx="568.5" cy="856.8" r="1.65" fill="#15793e" stroke="#2b2b2b" stroke-width="0.7"/>
<circle cx="564.6" cy="864.5" r="1.65" fill="#15793e" stroke="#2b2b2b" stroke-width="0.7"/>
<circle cx="564.1" cy="869.2" r="1.65" fill="#15793e" stroke="#2b2b2b" stroke-width="0.7"/>
<circle cx="567.4" cy="871.5" r="1.65" fill="#15793e" stroke="#2b2b2b" stroke-width="0.7"/>
<circle cx="563.8" cy="882.3" r="1.65" fill="#15793e" stroke="#2b2b2b" stroke-width="0.7"/>
<circle cx="564.9" cy="884.2" r="1.65" fill="#15793e" stroke="#2b2b2b" stroke-width="0.7"/>
<circle cx="568.2" cy="885" r="1.65" fill="#15793e" stroke="#2b2b2b" stroke-width="0.7"/>
<circle cx="566.6" cy="890" r="1.65" fill="#15793e" stroke="#2b2b2b" stroke-width="0.7"/>
<circle cx="565.5" cy="902.8" r="1.65" fill="#15793e" stroke="#2b2b2b" stroke-width="0.7"/>
<path d="M283.5 819.6V808.3H305.9V830.2" stroke="#707070" stroke-width="1" fill="none"/>
<text x="294.9" y="807.9" font-size="11" text-anchor="middle" fill="#000">*</text>
<path d="M305.9 803.6V791.1H349.5V803.6" stroke="#707070" stroke-width="1" fill="none"/>
<text x="327.6" y="788" font-size="11" text-anchor="middle" fill="#000">*</text>
<path d="M413.9 820.7V798.3H457.7V811.3" stroke="#707070" stroke-width="1" fill="none"/>
<text x="435.8" y="795.2" font-size="11" text-anchor="middle" fill="#000">*</text>
<path d="M522.5 828.5V806.3H566.3V819.6" stroke="#707070" stroke-width="1" fill="none"/>
<text x="544.4" y="804.3" font-size="11" text-anchor="middle" fill="#000">*</text>
<path d="M45.2 791V1038.5H588" stroke="#333333" stroke-width="1.1" fill="none"/>
<path d="M40.2 1038.5H45.2" stroke="#333333" stroke-width="1.1"/>
<text x="37.3" y="1043" font-size="11" text-anchor="end">0</text>
<path d="M40.2 998.7H45.2" stroke="#333333" stroke-width="1.1"/>
<text x="37.3" y="1003.2" font-size="11" text-anchor="end">2</text>
<path d="M40.2 958.8H45.2" stroke="#333333" stroke-width="1.1"/>
<text x="37.3" y="963.3" font-size="11" text-anchor="end">4</text>
<path d="M40.2 918.9H45.2" stroke="#333333" stroke-width="1.1"/>
<text x="37.3" y="923.4" font-size="11" text-anchor="end">6</text>
<path d="M40.2 879.1H45.2" stroke="#333333" stroke-width="1.1"/>
<text x="37.3" y="883.6" font-size="11" text-anchor="end">8</text>
<path d="M40.2 839.2H45.2" stroke="#333333" stroke-width="1.1"/>
<text x="37.3" y="843.7" font-size="11" text-anchor="end">10</text>
<path d="M40.2 799.3H45.2" stroke="#333333" stroke-width="1.1"/>
<text x="37.3" y="803.8" font-size="11" text-anchor="end">12</text>
<path d="M99.4 1038.5V1043.5" stroke="#333333" stroke-width="1.1"/>
<text x="99.4" y="1054.9" font-size="11" text-anchor="middle">15</text>
<path d="M207.7 1038.5V1043.5" stroke="#333333" stroke-width="1.1"/>
<text x="207.7" y="1054.9" font-size="11" text-anchor="middle">25</text>
<path d="M316.2 1038.5V1043.5" stroke="#333333" stroke-width="1.1"/>
<text x="316.2" y="1054.9" font-size="11" text-anchor="middle">35</text>
<path d="M424.6 1038.5V1043.5" stroke="#333333" stroke-width="1.1"/>
<text x="424.6" y="1054.9" font-size="11" text-anchor="middle">45</text>
<path d="M533.2 1038.5V1043.5" stroke="#333333" stroke-width="1.1"/>
<text x="533.2" y="1054.9" font-size="11" text-anchor="middle">50</text>
<text x="316.9" y="750.3" font-size="19.5" text-anchor="middle" textLength="112.6" lengthAdjust="spacingAndGlyphs">Total Volume</text>
<text transform="translate(18.6 928) rotate(-90)" font-size="12.5">mm<tspan dy="-10.1" dx="0.3" font-size="9.2">3</tspan></text>
<rect x="593.3" y="425.2" width="90.4" height="79.1" rx="2.2" ry="2.2" fill="#fff" stroke="#5a5a5a" stroke-width="1"/>
<rect x="598.1" y="431.4" width="27.5" height="9.5" fill="#e0ecb5" stroke="#2b2b2b" stroke-width="1"/>
<text x="635.9" y="440.6" font-size="12.9">Control</text>
<rect x="598.1" y="450" width="27.5" height="9.5" fill="#a6ce94" stroke="#2b2b2b" stroke-width="1"/>
<text x="635.9" y="459.2" font-size="12.9">Dist</text>
<rect x="598.1" y="468.6" width="27.5" height="9.5" fill="#58a36a" stroke="#2b2b2b" stroke-width="1"/>
<text x="635.9" y="477.8" font-size="12.9">Early</text>
<rect x="598.1" y="487.2" width="27.5" height="9.5" fill="#216c40" stroke="#2b2b2b" stroke-width="1"/>
<text x="635.9" y="496.4" font-size="12.9">Late</text>
<text x="316.4" y="1075" font-size="12.6" text-anchor="middle">Day</text>
</g>
</svg></body></html>
